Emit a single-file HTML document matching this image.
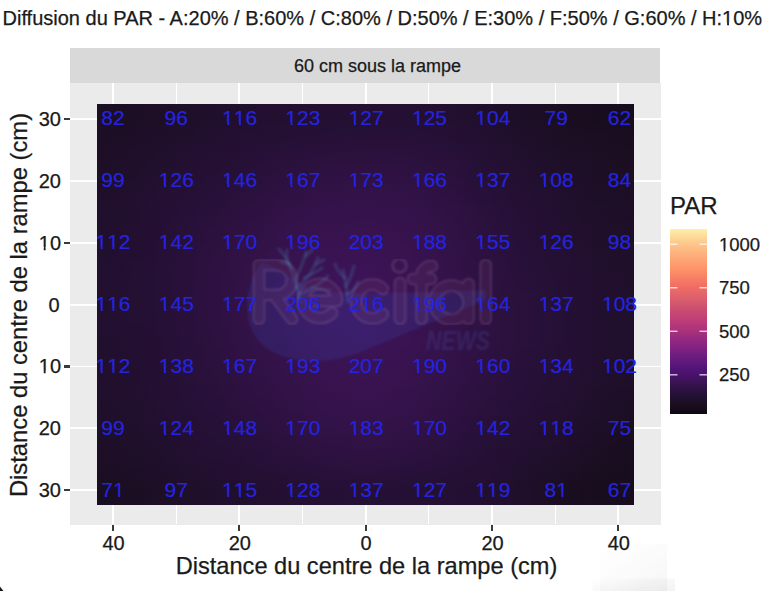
<!DOCTYPE html>
<html><head><meta charset="utf-8">
<style>
html,body{margin:0;padding:0;background:#fff;}
body{width:768px;height:591px;position:relative;overflow:hidden;font-family:"Liberation Sans",sans-serif;color:#1a1a1a;}
#title,#striptext,.xlab,.ylab,.llab,#xtitle,#ytitle span,#ltitle{-webkit-text-stroke:0.25px #1a1a1a;}
.n{-webkit-text-stroke:0.15px #2424e0;}
.o{display:inline-block;line-height:0;clip-path:polygon(-1em -2em,2em -2em,2em 0.22em,0.343em 0.22em,0.343em 1em,0.25em 1em,0.25em 0.22em,-1em 0.22em);}
.abs{position:absolute;}
#title{position:absolute;left:2.5px;top:6px;font-size:20px;white-space:nowrap;line-height:24px;color:#1a1a1a;}
#strip{position:absolute;left:70px;top:47.5px;width:590px;height:35.5px;background:#d9d9d9;}
#striptext{position:absolute;left:82.5px;top:49px;width:590px;height:35.5px;line-height:35.5px;text-align:center;font-size:18px;color:#1a1a1a;}
#panel{position:absolute;left:70px;top:83px;width:590.5px;height:441.5px;background:#ebebeb;overflow:hidden;}
.vl{position:absolute;top:83px;height:441px;background:#fff;}
.hl{position:absolute;left:70px;width:591px;height:1.9px;background:#fff;}
.n{position:absolute;width:80px;height:0;text-align:center;font-size:21px;line-height:0;color:#2424e0;}
.xtick{position:absolute;top:524.5px;width:2.2px;height:6px;background:#3a3a3a;}
.xlab{position:absolute;top:532px;width:60px;text-align:center;font-size:20px;line-height:22px;color:#1a1a1a;}
.ytick{position:absolute;left:64px;width:6px;height:2.2px;background:#3a3a3a;}
.ylab{position:absolute;left:0;width:61px;height:0;text-align:right;font-size:20px;line-height:0;color:#1a1a1a;}
.llab{position:absolute;left:719px;height:0;font-size:18.5px;line-height:0;color:#1a1a1a;}
#xtitle{position:absolute;left:71px;width:591px;top:553px;text-align:center;font-size:23.6px;line-height:26px;color:#1a1a1a;white-space:nowrap;}
#ytitle{position:absolute;left:19px;top:304.5px;width:0;height:0;}
#ytitle span{position:absolute;left:0;top:0;transform:translate(-50%,-50%) rotate(-90deg);font-size:23.75px;line-height:26px;white-space:nowrap;color:#1a1a1a;}
#ltitle{position:absolute;left:670px;top:193px;font-size:24px;line-height:26px;color:#1a1a1a;}
</style></head><body>
<div id="title">Diffusion du PAR - A:20% / B:60% / C:80% / D:50% / E:30% / F:50% / G:60% / H:<span class="o">1</span>0%</div>
<div id="strip"></div><div id="striptext">60 cm sous la rampe</div>
<div id="panel"></div>
<div class="vl" style="left:112.05px;width:1.90px"></div><div class="vl" style="left:175.61px;width:1.10px"></div><div class="vl" style="left:238.37px;width:1.90px"></div><div class="vl" style="left:301.93px;width:1.10px"></div><div class="vl" style="left:364.69px;width:1.90px"></div><div class="vl" style="left:428.25px;width:1.10px"></div><div class="vl" style="left:491.01px;width:1.90px"></div><div class="vl" style="left:554.57px;width:1.10px"></div><div class="vl" style="left:617.33px;width:1.90px"></div><div class="hl" style="top:118.35px"></div><div class="hl" style="top:180.15px"></div><div class="hl" style="top:241.95px"></div><div class="hl" style="top:303.75px"></div><div class="hl" style="top:365.55px"></div><div class="hl" style="top:427.35px"></div><div class="hl" style="top:489.15px"></div>
<svg width="537.0" height="400.8" style="position:absolute;left:97.2px;top:103.8px;display:block"><defs><linearGradient id="g0"><stop offset="0.000" stop-color="#1c0e23"/><stop offset="0.071" stop-color="#1c0e24"/><stop offset="0.143" stop-color="#1e0f28"/><stop offset="0.214" stop-color="#200f2c"/><stop offset="0.286" stop-color="#220f2f"/><stop offset="0.357" stop-color="#230f31"/><stop offset="0.429" stop-color="#230f32"/><stop offset="0.500" stop-color="#241033"/><stop offset="0.571" stop-color="#241033"/><stop offset="0.643" stop-color="#230f31"/><stop offset="0.714" stop-color="#200f2c"/><stop offset="0.786" stop-color="#1d0e27"/><stop offset="0.857" stop-color="#1b0e22"/><stop offset="0.929" stop-color="#180d1e"/><stop offset="1.000" stop-color="#170c1d"/></linearGradient><linearGradient id="g1"><stop offset="0.000" stop-color="#1c0e23"/><stop offset="0.071" stop-color="#1c0e24"/><stop offset="0.143" stop-color="#1e0f28"/><stop offset="0.214" stop-color="#200f2c"/><stop offset="0.286" stop-color="#220f2f"/><stop offset="0.357" stop-color="#230f31"/><stop offset="0.429" stop-color="#230f32"/><stop offset="0.500" stop-color="#241033"/><stop offset="0.571" stop-color="#241033"/><stop offset="0.643" stop-color="#230f31"/><stop offset="0.714" stop-color="#200f2c"/><stop offset="0.786" stop-color="#1d0e27"/><stop offset="0.857" stop-color="#1b0e22"/><stop offset="0.929" stop-color="#180d1e"/><stop offset="1.000" stop-color="#170c1d"/></linearGradient><linearGradient id="g2"><stop offset="0.000" stop-color="#1c0e23"/><stop offset="0.071" stop-color="#1c0e24"/><stop offset="0.143" stop-color="#1e0f28"/><stop offset="0.214" stop-color="#200f2c"/><stop offset="0.286" stop-color="#220f2f"/><stop offset="0.357" stop-color="#230f31"/><stop offset="0.429" stop-color="#230f32"/><stop offset="0.500" stop-color="#241033"/><stop offset="0.571" stop-color="#241033"/><stop offset="0.643" stop-color="#230f31"/><stop offset="0.714" stop-color="#200f2c"/><stop offset="0.786" stop-color="#1d0e27"/><stop offset="0.857" stop-color="#1b0e22"/><stop offset="0.929" stop-color="#180d1e"/><stop offset="1.000" stop-color="#170c1d"/></linearGradient><linearGradient id="g3"><stop offset="0.000" stop-color="#1c0e23"/><stop offset="0.071" stop-color="#1c0e24"/><stop offset="0.143" stop-color="#1e0f28"/><stop offset="0.214" stop-color="#200f2c"/><stop offset="0.286" stop-color="#220f2f"/><stop offset="0.357" stop-color="#230f31"/><stop offset="0.429" stop-color="#230f32"/><stop offset="0.500" stop-color="#241033"/><stop offset="0.571" stop-color="#241033"/><stop offset="0.643" stop-color="#230f31"/><stop offset="0.714" stop-color="#200f2c"/><stop offset="0.786" stop-color="#1d0e27"/><stop offset="0.857" stop-color="#1b0e22"/><stop offset="0.929" stop-color="#180d1e"/><stop offset="1.000" stop-color="#170c1d"/></linearGradient><linearGradient id="g4"><stop offset="0.000" stop-color="#1c0e23"/><stop offset="0.071" stop-color="#1c0e24"/><stop offset="0.143" stop-color="#1e0f28"/><stop offset="0.214" stop-color="#210f2d"/><stop offset="0.286" stop-color="#220f30"/><stop offset="0.357" stop-color="#230f31"/><stop offset="0.429" stop-color="#241032"/><stop offset="0.500" stop-color="#241033"/><stop offset="0.571" stop-color="#241034"/><stop offset="0.643" stop-color="#230f31"/><stop offset="0.714" stop-color="#210f2d"/><stop offset="0.786" stop-color="#1e0f27"/><stop offset="0.857" stop-color="#1b0e22"/><stop offset="0.929" stop-color="#180d1f"/><stop offset="1.000" stop-color="#170d1d"/></linearGradient><linearGradient id="g5"><stop offset="0.000" stop-color="#1c0e24"/><stop offset="0.071" stop-color="#1d0e25"/><stop offset="0.143" stop-color="#1f0f29"/><stop offset="0.214" stop-color="#210f2d"/><stop offset="0.286" stop-color="#230f31"/><stop offset="0.357" stop-color="#241033"/><stop offset="0.429" stop-color="#241034"/><stop offset="0.500" stop-color="#251034"/><stop offset="0.571" stop-color="#251035"/><stop offset="0.643" stop-color="#241033"/><stop offset="0.714" stop-color="#210f2e"/><stop offset="0.786" stop-color="#1e0f28"/><stop offset="0.857" stop-color="#1c0e23"/><stop offset="0.929" stop-color="#190d1f"/><stop offset="1.000" stop-color="#170d1e"/></linearGradient><linearGradient id="g6"><stop offset="0.000" stop-color="#1c0e24"/><stop offset="0.071" stop-color="#1d0e26"/><stop offset="0.143" stop-color="#1f0f2a"/><stop offset="0.214" stop-color="#210f2e"/><stop offset="0.286" stop-color="#230f31"/><stop offset="0.357" stop-color="#241034"/><stop offset="0.429" stop-color="#251035"/><stop offset="0.500" stop-color="#251036"/><stop offset="0.571" stop-color="#251036"/><stop offset="0.643" stop-color="#241034"/><stop offset="0.714" stop-color="#220f2f"/><stop offset="0.786" stop-color="#1f0f29"/><stop offset="0.857" stop-color="#1c0e24"/><stop offset="0.929" stop-color="#190d20"/><stop offset="1.000" stop-color="#180d1e"/></linearGradient><linearGradient id="g7"><stop offset="0.000" stop-color="#1c0e24"/><stop offset="0.071" stop-color="#1d0e26"/><stop offset="0.143" stop-color="#1f0f2a"/><stop offset="0.214" stop-color="#220f2f"/><stop offset="0.286" stop-color="#231032"/><stop offset="0.357" stop-color="#251034"/><stop offset="0.429" stop-color="#251036"/><stop offset="0.500" stop-color="#261037"/><stop offset="0.571" stop-color="#261037"/><stop offset="0.643" stop-color="#251035"/><stop offset="0.714" stop-color="#220f30"/><stop offset="0.786" stop-color="#1f0f2a"/><stop offset="0.857" stop-color="#1c0e25"/><stop offset="0.929" stop-color="#1a0e20"/><stop offset="1.000" stop-color="#180d1f"/></linearGradient><linearGradient id="g8"><stop offset="0.000" stop-color="#1c0e25"/><stop offset="0.071" stop-color="#1e0e27"/><stop offset="0.143" stop-color="#200f2b"/><stop offset="0.214" stop-color="#220f2f"/><stop offset="0.286" stop-color="#241033"/><stop offset="0.357" stop-color="#251035"/><stop offset="0.429" stop-color="#261037"/><stop offset="0.500" stop-color="#271038"/><stop offset="0.571" stop-color="#271038"/><stop offset="0.643" stop-color="#251036"/><stop offset="0.714" stop-color="#230f30"/><stop offset="0.786" stop-color="#200f2b"/><stop offset="0.857" stop-color="#1d0e25"/><stop offset="0.929" stop-color="#1a0e21"/><stop offset="1.000" stop-color="#190d1f"/></linearGradient><linearGradient id="g9"><stop offset="0.000" stop-color="#1d0e25"/><stop offset="0.071" stop-color="#1e0f28"/><stop offset="0.143" stop-color="#200f2c"/><stop offset="0.214" stop-color="#220f30"/><stop offset="0.286" stop-color="#241033"/><stop offset="0.357" stop-color="#261036"/><stop offset="0.429" stop-color="#271038"/><stop offset="0.500" stop-color="#281039"/><stop offset="0.571" stop-color="#281039"/><stop offset="0.643" stop-color="#261037"/><stop offset="0.714" stop-color="#230f31"/><stop offset="0.786" stop-color="#200f2b"/><stop offset="0.857" stop-color="#1d0e26"/><stop offset="0.929" stop-color="#1b0e22"/><stop offset="1.000" stop-color="#190d20"/></linearGradient><linearGradient id="g10"><stop offset="0.000" stop-color="#1d0e26"/><stop offset="0.071" stop-color="#1e0f28"/><stop offset="0.143" stop-color="#210f2d"/><stop offset="0.214" stop-color="#230f31"/><stop offset="0.286" stop-color="#251034"/><stop offset="0.357" stop-color="#261037"/><stop offset="0.429" stop-color="#28103a"/><stop offset="0.500" stop-color="#29103b"/><stop offset="0.571" stop-color="#29103b"/><stop offset="0.643" stop-color="#261038"/><stop offset="0.714" stop-color="#231032"/><stop offset="0.786" stop-color="#200f2c"/><stop offset="0.857" stop-color="#1d0e27"/><stop offset="0.929" stop-color="#1b0e22"/><stop offset="1.000" stop-color="#190d20"/></linearGradient><linearGradient id="g11"><stop offset="0.000" stop-color="#1d0e26"/><stop offset="0.071" stop-color="#1f0f29"/><stop offset="0.143" stop-color="#210f2d"/><stop offset="0.214" stop-color="#230f31"/><stop offset="0.286" stop-color="#251035"/><stop offset="0.357" stop-color="#271039"/><stop offset="0.429" stop-color="#29103b"/><stop offset="0.500" stop-color="#2a113c"/><stop offset="0.571" stop-color="#2a113c"/><stop offset="0.643" stop-color="#271039"/><stop offset="0.714" stop-color="#241033"/><stop offset="0.786" stop-color="#210f2d"/><stop offset="0.857" stop-color="#1e0e27"/><stop offset="0.929" stop-color="#1b0e23"/><stop offset="1.000" stop-color="#1a0e21"/></linearGradient><linearGradient id="g12"><stop offset="0.000" stop-color="#1d0e26"/><stop offset="0.071" stop-color="#1f0f2a"/><stop offset="0.143" stop-color="#210f2e"/><stop offset="0.214" stop-color="#231032"/><stop offset="0.286" stop-color="#251036"/><stop offset="0.357" stop-color="#28103a"/><stop offset="0.429" stop-color="#2a113c"/><stop offset="0.500" stop-color="#2b113d"/><stop offset="0.571" stop-color="#2a113d"/><stop offset="0.643" stop-color="#28103a"/><stop offset="0.714" stop-color="#241034"/><stop offset="0.786" stop-color="#210f2d"/><stop offset="0.857" stop-color="#1e0f28"/><stop offset="0.929" stop-color="#1c0e23"/><stop offset="1.000" stop-color="#1a0e21"/></linearGradient><linearGradient id="g13"><stop offset="0.000" stop-color="#1d0e27"/><stop offset="0.071" stop-color="#1f0f2a"/><stop offset="0.143" stop-color="#220f2f"/><stop offset="0.214" stop-color="#241032"/><stop offset="0.286" stop-color="#261036"/><stop offset="0.357" stop-color="#29103b"/><stop offset="0.429" stop-color="#2b113d"/><stop offset="0.500" stop-color="#2b113e"/><stop offset="0.571" stop-color="#2b113e"/><stop offset="0.643" stop-color="#29103b"/><stop offset="0.714" stop-color="#251034"/><stop offset="0.786" stop-color="#210f2e"/><stop offset="0.857" stop-color="#1e0f28"/><stop offset="0.929" stop-color="#1c0e24"/><stop offset="1.000" stop-color="#1b0e21"/></linearGradient><linearGradient id="g14"><stop offset="0.000" stop-color="#1e0e27"/><stop offset="0.071" stop-color="#1f0f2b"/><stop offset="0.143" stop-color="#220f2f"/><stop offset="0.214" stop-color="#241033"/><stop offset="0.286" stop-color="#261037"/><stop offset="0.357" stop-color="#2a113c"/><stop offset="0.429" stop-color="#2c113f"/><stop offset="0.500" stop-color="#2c113f"/><stop offset="0.571" stop-color="#2c113f"/><stop offset="0.643" stop-color="#29113c"/><stop offset="0.714" stop-color="#251035"/><stop offset="0.786" stop-color="#220f2f"/><stop offset="0.857" stop-color="#1f0f29"/><stop offset="0.929" stop-color="#1c0e24"/><stop offset="1.000" stop-color="#1b0e22"/></linearGradient><linearGradient id="g15"><stop offset="0.000" stop-color="#1e0f27"/><stop offset="0.071" stop-color="#200f2b"/><stop offset="0.143" stop-color="#220f30"/><stop offset="0.214" stop-color="#241034"/><stop offset="0.286" stop-color="#271038"/><stop offset="0.357" stop-color="#2a113d"/><stop offset="0.429" stop-color="#2d1140"/><stop offset="0.500" stop-color="#2d1141"/><stop offset="0.571" stop-color="#2d1140"/><stop offset="0.643" stop-color="#2a113d"/><stop offset="0.714" stop-color="#251036"/><stop offset="0.786" stop-color="#220f2f"/><stop offset="0.857" stop-color="#1f0f2a"/><stop offset="0.929" stop-color="#1c0e25"/><stop offset="1.000" stop-color="#1b0e22"/></linearGradient><linearGradient id="g16"><stop offset="0.000" stop-color="#1e0f28"/><stop offset="0.071" stop-color="#200f2c"/><stop offset="0.143" stop-color="#230f30"/><stop offset="0.214" stop-color="#251034"/><stop offset="0.286" stop-color="#271039"/><stop offset="0.357" stop-color="#2b113e"/><stop offset="0.429" stop-color="#2d1141"/><stop offset="0.500" stop-color="#2e1142"/><stop offset="0.571" stop-color="#2e1141"/><stop offset="0.643" stop-color="#2b113d"/><stop offset="0.714" stop-color="#261036"/><stop offset="0.786" stop-color="#220f30"/><stop offset="0.857" stop-color="#1f0f2a"/><stop offset="0.929" stop-color="#1d0e25"/><stop offset="1.000" stop-color="#1b0e23"/></linearGradient><linearGradient id="g17"><stop offset="0.000" stop-color="#1e0f28"/><stop offset="0.071" stop-color="#200f2c"/><stop offset="0.143" stop-color="#230f31"/><stop offset="0.214" stop-color="#251035"/><stop offset="0.286" stop-color="#28103a"/><stop offset="0.357" stop-color="#2c113f"/><stop offset="0.429" stop-color="#2e1142"/><stop offset="0.500" stop-color="#2f1143"/><stop offset="0.571" stop-color="#2e1142"/><stop offset="0.643" stop-color="#2b113e"/><stop offset="0.714" stop-color="#261037"/><stop offset="0.786" stop-color="#230f30"/><stop offset="0.857" stop-color="#200f2b"/><stop offset="0.929" stop-color="#1d0e26"/><stop offset="1.000" stop-color="#1c0e23"/></linearGradient><linearGradient id="g18"><stop offset="0.000" stop-color="#1e0f29"/><stop offset="0.071" stop-color="#200f2c"/><stop offset="0.143" stop-color="#230f31"/><stop offset="0.214" stop-color="#251036"/><stop offset="0.286" stop-color="#29103a"/><stop offset="0.357" stop-color="#2d1140"/><stop offset="0.429" stop-color="#2f1143"/><stop offset="0.500" stop-color="#301144"/><stop offset="0.571" stop-color="#2f1143"/><stop offset="0.643" stop-color="#2c113f"/><stop offset="0.714" stop-color="#261038"/><stop offset="0.786" stop-color="#230f31"/><stop offset="0.857" stop-color="#200f2b"/><stop offset="0.929" stop-color="#1d0e26"/><stop offset="1.000" stop-color="#1c0e23"/></linearGradient><linearGradient id="g19"><stop offset="0.000" stop-color="#1f0f29"/><stop offset="0.071" stop-color="#210f2d"/><stop offset="0.143" stop-color="#231032"/><stop offset="0.214" stop-color="#261036"/><stop offset="0.286" stop-color="#29103b"/><stop offset="0.357" stop-color="#2d1141"/><stop offset="0.429" stop-color="#301144"/><stop offset="0.500" stop-color="#301245"/><stop offset="0.571" stop-color="#301144"/><stop offset="0.643" stop-color="#2d1140"/><stop offset="0.714" stop-color="#271038"/><stop offset="0.786" stop-color="#230f32"/><stop offset="0.857" stop-color="#200f2c"/><stop offset="0.929" stop-color="#1d0e27"/><stop offset="1.000" stop-color="#1c0e24"/></linearGradient><linearGradient id="g20"><stop offset="0.000" stop-color="#1f0f29"/><stop offset="0.071" stop-color="#210f2d"/><stop offset="0.143" stop-color="#241033"/><stop offset="0.214" stop-color="#261037"/><stop offset="0.286" stop-color="#2a113c"/><stop offset="0.357" stop-color="#2e1142"/><stop offset="0.429" stop-color="#301245"/><stop offset="0.500" stop-color="#311246"/><stop offset="0.571" stop-color="#301245"/><stop offset="0.643" stop-color="#2d1141"/><stop offset="0.714" stop-color="#271039"/><stop offset="0.786" stop-color="#231032"/><stop offset="0.857" stop-color="#200f2c"/><stop offset="0.929" stop-color="#1e0e27"/><stop offset="1.000" stop-color="#1c0e24"/></linearGradient><linearGradient id="g21"><stop offset="0.000" stop-color="#1f0f2a"/><stop offset="0.071" stop-color="#210f2e"/><stop offset="0.143" stop-color="#241033"/><stop offset="0.214" stop-color="#261037"/><stop offset="0.286" stop-color="#2a113d"/><stop offset="0.357" stop-color="#2f1143"/><stop offset="0.429" stop-color="#311246"/><stop offset="0.500" stop-color="#321247"/><stop offset="0.571" stop-color="#311246"/><stop offset="0.643" stop-color="#2e1141"/><stop offset="0.714" stop-color="#28103a"/><stop offset="0.786" stop-color="#241032"/><stop offset="0.857" stop-color="#210f2d"/><stop offset="0.929" stop-color="#1e0f27"/><stop offset="1.000" stop-color="#1c0e25"/></linearGradient><linearGradient id="g22"><stop offset="0.000" stop-color="#1f0f2a"/><stop offset="0.071" stop-color="#210f2e"/><stop offset="0.143" stop-color="#241033"/><stop offset="0.214" stop-color="#271038"/><stop offset="0.286" stop-color="#2b113e"/><stop offset="0.357" stop-color="#2f1144"/><stop offset="0.429" stop-color="#321247"/><stop offset="0.500" stop-color="#321248"/><stop offset="0.571" stop-color="#321247"/><stop offset="0.643" stop-color="#2e1142"/><stop offset="0.714" stop-color="#28103a"/><stop offset="0.786" stop-color="#241033"/><stop offset="0.857" stop-color="#210f2d"/><stop offset="0.929" stop-color="#1e0f28"/><stop offset="1.000" stop-color="#1c0e25"/></linearGradient><linearGradient id="g23"><stop offset="0.000" stop-color="#1f0f2a"/><stop offset="0.071" stop-color="#220f2e"/><stop offset="0.143" stop-color="#241034"/><stop offset="0.214" stop-color="#271039"/><stop offset="0.286" stop-color="#2c113e"/><stop offset="0.357" stop-color="#301144"/><stop offset="0.429" stop-color="#331248"/><stop offset="0.500" stop-color="#331249"/><stop offset="0.571" stop-color="#321247"/><stop offset="0.643" stop-color="#2f1143"/><stop offset="0.714" stop-color="#29103b"/><stop offset="0.786" stop-color="#241033"/><stop offset="0.857" stop-color="#210f2e"/><stop offset="0.929" stop-color="#1e0f28"/><stop offset="1.000" stop-color="#1d0e25"/></linearGradient><linearGradient id="g24"><stop offset="0.000" stop-color="#200f2b"/><stop offset="0.071" stop-color="#220f2f"/><stop offset="0.143" stop-color="#251034"/><stop offset="0.214" stop-color="#281039"/><stop offset="0.286" stop-color="#2c113f"/><stop offset="0.357" stop-color="#311245"/><stop offset="0.429" stop-color="#331249"/><stop offset="0.500" stop-color="#34124a"/><stop offset="0.571" stop-color="#331248"/><stop offset="0.643" stop-color="#2f1143"/><stop offset="0.714" stop-color="#29103b"/><stop offset="0.786" stop-color="#241034"/><stop offset="0.857" stop-color="#210f2e"/><stop offset="0.929" stop-color="#1e0f29"/><stop offset="1.000" stop-color="#1d0e26"/></linearGradient><linearGradient id="g25"><stop offset="0.000" stop-color="#200f2b"/><stop offset="0.071" stop-color="#220f2f"/><stop offset="0.143" stop-color="#251035"/><stop offset="0.214" stop-color="#28103a"/><stop offset="0.286" stop-color="#2d1140"/><stop offset="0.357" stop-color="#311246"/><stop offset="0.429" stop-color="#34124a"/><stop offset="0.500" stop-color="#34124a"/><stop offset="0.571" stop-color="#331249"/><stop offset="0.643" stop-color="#301144"/><stop offset="0.714" stop-color="#2a113c"/><stop offset="0.786" stop-color="#251034"/><stop offset="0.857" stop-color="#220f2e"/><stop offset="0.929" stop-color="#1f0f29"/><stop offset="1.000" stop-color="#1d0e26"/></linearGradient><linearGradient id="g26"><stop offset="0.000" stop-color="#200f2b"/><stop offset="0.071" stop-color="#220f2f"/><stop offset="0.143" stop-color="#251035"/><stop offset="0.214" stop-color="#29103a"/><stop offset="0.286" stop-color="#2d1141"/><stop offset="0.357" stop-color="#321247"/><stop offset="0.429" stop-color="#35124b"/><stop offset="0.500" stop-color="#35124b"/><stop offset="0.571" stop-color="#34124a"/><stop offset="0.643" stop-color="#301245"/><stop offset="0.714" stop-color="#2a113c"/><stop offset="0.786" stop-color="#251035"/><stop offset="0.857" stop-color="#220f2f"/><stop offset="0.929" stop-color="#1f0f29"/><stop offset="1.000" stop-color="#1d0e26"/></linearGradient><linearGradient id="g27"><stop offset="0.000" stop-color="#200f2c"/><stop offset="0.071" stop-color="#220f30"/><stop offset="0.143" stop-color="#251035"/><stop offset="0.214" stop-color="#29103b"/><stop offset="0.286" stop-color="#2e1141"/><stop offset="0.357" stop-color="#321248"/><stop offset="0.429" stop-color="#35124b"/><stop offset="0.500" stop-color="#36124c"/><stop offset="0.571" stop-color="#34124a"/><stop offset="0.643" stop-color="#301245"/><stop offset="0.714" stop-color="#2a113d"/><stop offset="0.786" stop-color="#251035"/><stop offset="0.857" stop-color="#220f2f"/><stop offset="0.929" stop-color="#1f0f2a"/><stop offset="1.000" stop-color="#1d0e26"/></linearGradient><linearGradient id="g28"><stop offset="0.000" stop-color="#200f2c"/><stop offset="0.071" stop-color="#220f30"/><stop offset="0.143" stop-color="#251036"/><stop offset="0.214" stop-color="#29113c"/><stop offset="0.286" stop-color="#2e1142"/><stop offset="0.357" stop-color="#331248"/><stop offset="0.429" stop-color="#36124c"/><stop offset="0.500" stop-color="#36124d"/><stop offset="0.571" stop-color="#35124b"/><stop offset="0.643" stop-color="#311246"/><stop offset="0.714" stop-color="#2b113d"/><stop offset="0.786" stop-color="#251035"/><stop offset="0.857" stop-color="#220f30"/><stop offset="0.929" stop-color="#1f0f2a"/><stop offset="1.000" stop-color="#1d0e27"/></linearGradient><linearGradient id="g29"><stop offset="0.000" stop-color="#200f2c"/><stop offset="0.071" stop-color="#220f30"/><stop offset="0.143" stop-color="#251036"/><stop offset="0.214" stop-color="#2a113c"/><stop offset="0.286" stop-color="#2f1143"/><stop offset="0.357" stop-color="#331249"/><stop offset="0.429" stop-color="#36124d"/><stop offset="0.500" stop-color="#37134e"/><stop offset="0.571" stop-color="#35124c"/><stop offset="0.643" stop-color="#311246"/><stop offset="0.714" stop-color="#2b113e"/><stop offset="0.786" stop-color="#251036"/><stop offset="0.857" stop-color="#220f30"/><stop offset="0.929" stop-color="#1f0f2a"/><stop offset="1.000" stop-color="#1e0e27"/></linearGradient><linearGradient id="g30"><stop offset="0.000" stop-color="#200f2c"/><stop offset="0.071" stop-color="#230f30"/><stop offset="0.143" stop-color="#261036"/><stop offset="0.214" stop-color="#2a113d"/><stop offset="0.286" stop-color="#2f1143"/><stop offset="0.357" stop-color="#34124a"/><stop offset="0.429" stop-color="#37134e"/><stop offset="0.500" stop-color="#37134e"/><stop offset="0.571" stop-color="#36124c"/><stop offset="0.643" stop-color="#321247"/><stop offset="0.714" stop-color="#2b113e"/><stop offset="0.786" stop-color="#261036"/><stop offset="0.857" stop-color="#230f30"/><stop offset="0.929" stop-color="#200f2b"/><stop offset="1.000" stop-color="#1e0f27"/></linearGradient><linearGradient id="g31"><stop offset="0.000" stop-color="#210f2d"/><stop offset="0.071" stop-color="#230f31"/><stop offset="0.143" stop-color="#261037"/><stop offset="0.214" stop-color="#2b113d"/><stop offset="0.286" stop-color="#301144"/><stop offset="0.357" stop-color="#34124a"/><stop offset="0.429" stop-color="#37134e"/><stop offset="0.500" stop-color="#38134f"/><stop offset="0.571" stop-color="#36124d"/><stop offset="0.643" stop-color="#321247"/><stop offset="0.714" stop-color="#2c113f"/><stop offset="0.786" stop-color="#261037"/><stop offset="0.857" stop-color="#230f31"/><stop offset="0.929" stop-color="#200f2b"/><stop offset="1.000" stop-color="#1e0f28"/></linearGradient><linearGradient id="g32"><stop offset="0.000" stop-color="#210f2d"/><stop offset="0.071" stop-color="#230f31"/><stop offset="0.143" stop-color="#261037"/><stop offset="0.214" stop-color="#2b113e"/><stop offset="0.286" stop-color="#301144"/><stop offset="0.357" stop-color="#35124b"/><stop offset="0.429" stop-color="#38134f"/><stop offset="0.500" stop-color="#381350"/><stop offset="0.571" stop-color="#37124d"/><stop offset="0.643" stop-color="#321247"/><stop offset="0.714" stop-color="#2c113f"/><stop offset="0.786" stop-color="#261037"/><stop offset="0.857" stop-color="#230f31"/><stop offset="0.929" stop-color="#200f2b"/><stop offset="1.000" stop-color="#1e0f28"/></linearGradient><linearGradient id="g33"><stop offset="0.000" stop-color="#210f2d"/><stop offset="0.071" stop-color="#230f31"/><stop offset="0.143" stop-color="#261037"/><stop offset="0.214" stop-color="#2b113e"/><stop offset="0.286" stop-color="#301245"/><stop offset="0.357" stop-color="#35124c"/><stop offset="0.429" stop-color="#381350"/><stop offset="0.500" stop-color="#391350"/><stop offset="0.571" stop-color="#37134e"/><stop offset="0.643" stop-color="#321248"/><stop offset="0.714" stop-color="#2c113f"/><stop offset="0.786" stop-color="#261037"/><stop offset="0.857" stop-color="#230f31"/><stop offset="0.929" stop-color="#200f2c"/><stop offset="1.000" stop-color="#1e0f28"/></linearGradient><linearGradient id="g34"><stop offset="0.000" stop-color="#210f2d"/><stop offset="0.071" stop-color="#230f31"/><stop offset="0.143" stop-color="#261037"/><stop offset="0.214" stop-color="#2b113e"/><stop offset="0.286" stop-color="#311245"/><stop offset="0.357" stop-color="#36124c"/><stop offset="0.429" stop-color="#391350"/><stop offset="0.500" stop-color="#391351"/><stop offset="0.571" stop-color="#37134e"/><stop offset="0.643" stop-color="#331248"/><stop offset="0.714" stop-color="#2c1140"/><stop offset="0.786" stop-color="#261038"/><stop offset="0.857" stop-color="#230f32"/><stop offset="0.929" stop-color="#200f2c"/><stop offset="1.000" stop-color="#1e0f28"/></linearGradient><linearGradient id="g35"><stop offset="0.000" stop-color="#210f2d"/><stop offset="0.071" stop-color="#230f31"/><stop offset="0.143" stop-color="#261038"/><stop offset="0.214" stop-color="#2c113f"/><stop offset="0.286" stop-color="#311246"/><stop offset="0.357" stop-color="#36124d"/><stop offset="0.429" stop-color="#391351"/><stop offset="0.500" stop-color="#3a1352"/><stop offset="0.571" stop-color="#38134f"/><stop offset="0.643" stop-color="#331249"/><stop offset="0.714" stop-color="#2d1140"/><stop offset="0.786" stop-color="#271038"/><stop offset="0.857" stop-color="#231032"/><stop offset="0.929" stop-color="#200f2c"/><stop offset="1.000" stop-color="#1f0f29"/></linearGradient><linearGradient id="g36"><stop offset="0.000" stop-color="#210f2e"/><stop offset="0.071" stop-color="#230f32"/><stop offset="0.143" stop-color="#271038"/><stop offset="0.214" stop-color="#2c113f"/><stop offset="0.286" stop-color="#311246"/><stop offset="0.357" stop-color="#37124d"/><stop offset="0.429" stop-color="#3a1352"/><stop offset="0.500" stop-color="#3a1352"/><stop offset="0.571" stop-color="#38134f"/><stop offset="0.643" stop-color="#331249"/><stop offset="0.714" stop-color="#2d1140"/><stop offset="0.786" stop-color="#271038"/><stop offset="0.857" stop-color="#241032"/><stop offset="0.929" stop-color="#210f2d"/><stop offset="1.000" stop-color="#1f0f29"/></linearGradient><linearGradient id="g37"><stop offset="0.000" stop-color="#210f2e"/><stop offset="0.071" stop-color="#230f32"/><stop offset="0.143" stop-color="#271038"/><stop offset="0.214" stop-color="#2c113f"/><stop offset="0.286" stop-color="#321247"/><stop offset="0.357" stop-color="#37134e"/><stop offset="0.429" stop-color="#3a1352"/><stop offset="0.500" stop-color="#3b1353"/><stop offset="0.571" stop-color="#381350"/><stop offset="0.643" stop-color="#341249"/><stop offset="0.714" stop-color="#2d1141"/><stop offset="0.786" stop-color="#271039"/><stop offset="0.857" stop-color="#241033"/><stop offset="0.929" stop-color="#210f2d"/><stop offset="1.000" stop-color="#1f0f29"/></linearGradient><linearGradient id="g38"><stop offset="0.000" stop-color="#210f2e"/><stop offset="0.071" stop-color="#230f32"/><stop offset="0.143" stop-color="#271038"/><stop offset="0.214" stop-color="#2c1140"/><stop offset="0.286" stop-color="#321247"/><stop offset="0.357" stop-color="#37134e"/><stop offset="0.429" stop-color="#3a1353"/><stop offset="0.500" stop-color="#3b1354"/><stop offset="0.571" stop-color="#391350"/><stop offset="0.643" stop-color="#34124a"/><stop offset="0.714" stop-color="#2d1141"/><stop offset="0.786" stop-color="#281039"/><stop offset="0.857" stop-color="#241033"/><stop offset="0.929" stop-color="#210f2d"/><stop offset="1.000" stop-color="#1f0f2a"/></linearGradient><linearGradient id="g39"><stop offset="0.000" stop-color="#210f2e"/><stop offset="0.071" stop-color="#231032"/><stop offset="0.143" stop-color="#271038"/><stop offset="0.214" stop-color="#2d1140"/><stop offset="0.286" stop-color="#321247"/><stop offset="0.357" stop-color="#37134f"/><stop offset="0.429" stop-color="#3b1353"/><stop offset="0.500" stop-color="#3b1355"/><stop offset="0.571" stop-color="#391350"/><stop offset="0.643" stop-color="#34124a"/><stop offset="0.714" stop-color="#2e1141"/><stop offset="0.786" stop-color="#281039"/><stop offset="0.857" stop-color="#241033"/><stop offset="0.929" stop-color="#210f2e"/><stop offset="1.000" stop-color="#1f0f2a"/></linearGradient><linearGradient id="g40"><stop offset="0.000" stop-color="#210f2e"/><stop offset="0.071" stop-color="#231032"/><stop offset="0.143" stop-color="#271038"/><stop offset="0.214" stop-color="#2d1140"/><stop offset="0.286" stop-color="#321248"/><stop offset="0.357" stop-color="#38134f"/><stop offset="0.429" stop-color="#3b1354"/><stop offset="0.500" stop-color="#3c1355"/><stop offset="0.571" stop-color="#391351"/><stop offset="0.643" stop-color="#34124a"/><stop offset="0.714" stop-color="#2e1142"/><stop offset="0.786" stop-color="#28103a"/><stop offset="0.857" stop-color="#241034"/><stop offset="0.929" stop-color="#210f2e"/><stop offset="1.000" stop-color="#1f0f2a"/></linearGradient><linearGradient id="g41"><stop offset="0.000" stop-color="#210f2e"/><stop offset="0.071" stop-color="#231032"/><stop offset="0.143" stop-color="#271039"/><stop offset="0.214" stop-color="#2d1140"/><stop offset="0.286" stop-color="#331248"/><stop offset="0.357" stop-color="#38134f"/><stop offset="0.429" stop-color="#3b1355"/><stop offset="0.500" stop-color="#3c1356"/><stop offset="0.571" stop-color="#391351"/><stop offset="0.643" stop-color="#34124a"/><stop offset="0.714" stop-color="#2e1142"/><stop offset="0.786" stop-color="#28103a"/><stop offset="0.857" stop-color="#241034"/><stop offset="0.929" stop-color="#210f2e"/><stop offset="1.000" stop-color="#1f0f2a"/></linearGradient><linearGradient id="g42"><stop offset="0.000" stop-color="#220f2e"/><stop offset="0.071" stop-color="#231032"/><stop offset="0.143" stop-color="#271039"/><stop offset="0.214" stop-color="#2d1140"/><stop offset="0.286" stop-color="#331248"/><stop offset="0.357" stop-color="#381350"/><stop offset="0.429" stop-color="#3c1355"/><stop offset="0.500" stop-color="#3c1356"/><stop offset="0.571" stop-color="#3a1351"/><stop offset="0.643" stop-color="#34124b"/><stop offset="0.714" stop-color="#2e1142"/><stop offset="0.786" stop-color="#28103a"/><stop offset="0.857" stop-color="#251034"/><stop offset="0.929" stop-color="#220f2e"/><stop offset="1.000" stop-color="#200f2b"/></linearGradient><linearGradient id="g43"><stop offset="0.000" stop-color="#220f2f"/><stop offset="0.071" stop-color="#231032"/><stop offset="0.143" stop-color="#271039"/><stop offset="0.214" stop-color="#2d1140"/><stop offset="0.286" stop-color="#331248"/><stop offset="0.357" stop-color="#381350"/><stop offset="0.429" stop-color="#3c1356"/><stop offset="0.500" stop-color="#3d1357"/><stop offset="0.571" stop-color="#3a1352"/><stop offset="0.643" stop-color="#35124b"/><stop offset="0.714" stop-color="#2e1142"/><stop offset="0.786" stop-color="#29103b"/><stop offset="0.857" stop-color="#251034"/><stop offset="0.929" stop-color="#220f2f"/><stop offset="1.000" stop-color="#200f2b"/></linearGradient><linearGradient id="g44"><stop offset="0.000" stop-color="#220f2f"/><stop offset="0.071" stop-color="#231032"/><stop offset="0.143" stop-color="#271039"/><stop offset="0.214" stop-color="#2d1141"/><stop offset="0.286" stop-color="#331249"/><stop offset="0.357" stop-color="#381350"/><stop offset="0.429" stop-color="#3c1356"/><stop offset="0.500" stop-color="#3d1357"/><stop offset="0.571" stop-color="#3a1352"/><stop offset="0.643" stop-color="#35124b"/><stop offset="0.714" stop-color="#2e1142"/><stop offset="0.786" stop-color="#29103b"/><stop offset="0.857" stop-color="#251035"/><stop offset="0.929" stop-color="#220f2f"/><stop offset="1.000" stop-color="#200f2b"/></linearGradient><linearGradient id="g45"><stop offset="0.000" stop-color="#220f2f"/><stop offset="0.071" stop-color="#231032"/><stop offset="0.143" stop-color="#271039"/><stop offset="0.214" stop-color="#2d1141"/><stop offset="0.286" stop-color="#331249"/><stop offset="0.357" stop-color="#391350"/><stop offset="0.429" stop-color="#3c1356"/><stop offset="0.500" stop-color="#3d1358"/><stop offset="0.571" stop-color="#3a1352"/><stop offset="0.643" stop-color="#35124b"/><stop offset="0.714" stop-color="#2f1143"/><stop offset="0.786" stop-color="#29103b"/><stop offset="0.857" stop-color="#251035"/><stop offset="0.929" stop-color="#220f2f"/><stop offset="1.000" stop-color="#200f2b"/></linearGradient><linearGradient id="g46"><stop offset="0.000" stop-color="#220f2f"/><stop offset="0.071" stop-color="#231032"/><stop offset="0.143" stop-color="#271039"/><stop offset="0.214" stop-color="#2d1141"/><stop offset="0.286" stop-color="#331249"/><stop offset="0.357" stop-color="#391350"/><stop offset="0.429" stop-color="#3d1357"/><stop offset="0.500" stop-color="#3d1358"/><stop offset="0.571" stop-color="#3a1352"/><stop offset="0.643" stop-color="#35124b"/><stop offset="0.714" stop-color="#2f1143"/><stop offset="0.786" stop-color="#29103b"/><stop offset="0.857" stop-color="#251035"/><stop offset="0.929" stop-color="#220f2f"/><stop offset="1.000" stop-color="#200f2b"/></linearGradient><linearGradient id="g47"><stop offset="0.000" stop-color="#220f2f"/><stop offset="0.071" stop-color="#231032"/><stop offset="0.143" stop-color="#271039"/><stop offset="0.214" stop-color="#2d1141"/><stop offset="0.286" stop-color="#331249"/><stop offset="0.357" stop-color="#391350"/><stop offset="0.429" stop-color="#3d1357"/><stop offset="0.500" stop-color="#3d1358"/><stop offset="0.571" stop-color="#3a1353"/><stop offset="0.643" stop-color="#35124b"/><stop offset="0.714" stop-color="#2f1143"/><stop offset="0.786" stop-color="#29113c"/><stop offset="0.857" stop-color="#251035"/><stop offset="0.929" stop-color="#220f30"/><stop offset="1.000" stop-color="#200f2c"/></linearGradient><linearGradient id="g48"><stop offset="0.000" stop-color="#220f2f"/><stop offset="0.071" stop-color="#231032"/><stop offset="0.143" stop-color="#271039"/><stop offset="0.214" stop-color="#2d1141"/><stop offset="0.286" stop-color="#331249"/><stop offset="0.357" stop-color="#391350"/><stop offset="0.429" stop-color="#3d1357"/><stop offset="0.500" stop-color="#3e1359"/><stop offset="0.571" stop-color="#3a1353"/><stop offset="0.643" stop-color="#35124b"/><stop offset="0.714" stop-color="#2f1143"/><stop offset="0.786" stop-color="#29113c"/><stop offset="0.857" stop-color="#251035"/><stop offset="0.929" stop-color="#220f30"/><stop offset="1.000" stop-color="#200f2c"/></linearGradient><linearGradient id="g49"><stop offset="0.000" stop-color="#220f2f"/><stop offset="0.071" stop-color="#231032"/><stop offset="0.143" stop-color="#271039"/><stop offset="0.214" stop-color="#2d1141"/><stop offset="0.286" stop-color="#331249"/><stop offset="0.357" stop-color="#391350"/><stop offset="0.429" stop-color="#3d1357"/><stop offset="0.500" stop-color="#3e1359"/><stop offset="0.571" stop-color="#3b1353"/><stop offset="0.643" stop-color="#35124b"/><stop offset="0.714" stop-color="#2f1143"/><stop offset="0.786" stop-color="#2a113c"/><stop offset="0.857" stop-color="#251036"/><stop offset="0.929" stop-color="#220f30"/><stop offset="1.000" stop-color="#200f2c"/></linearGradient><linearGradient id="g50"><stop offset="0.000" stop-color="#220f2f"/><stop offset="0.071" stop-color="#231032"/><stop offset="0.143" stop-color="#271039"/><stop offset="0.214" stop-color="#2d1141"/><stop offset="0.286" stop-color="#331249"/><stop offset="0.357" stop-color="#391350"/><stop offset="0.429" stop-color="#3d1357"/><stop offset="0.500" stop-color="#3e1359"/><stop offset="0.571" stop-color="#3b1353"/><stop offset="0.643" stop-color="#35124b"/><stop offset="0.714" stop-color="#2f1143"/><stop offset="0.786" stop-color="#2a113c"/><stop offset="0.857" stop-color="#251036"/><stop offset="0.929" stop-color="#220f30"/><stop offset="1.000" stop-color="#200f2c"/></linearGradient><linearGradient id="g51"><stop offset="0.000" stop-color="#220f2f"/><stop offset="0.071" stop-color="#231032"/><stop offset="0.143" stop-color="#271039"/><stop offset="0.214" stop-color="#2d1141"/><stop offset="0.286" stop-color="#331249"/><stop offset="0.357" stop-color="#391350"/><stop offset="0.429" stop-color="#3d1357"/><stop offset="0.500" stop-color="#3e1359"/><stop offset="0.571" stop-color="#3b1353"/><stop offset="0.643" stop-color="#35124b"/><stop offset="0.714" stop-color="#2f1143"/><stop offset="0.786" stop-color="#2a113c"/><stop offset="0.857" stop-color="#251036"/><stop offset="0.929" stop-color="#220f30"/><stop offset="1.000" stop-color="#200f2c"/></linearGradient><linearGradient id="g52"><stop offset="0.000" stop-color="#220f2f"/><stop offset="0.071" stop-color="#231032"/><stop offset="0.143" stop-color="#271038"/><stop offset="0.214" stop-color="#2d1140"/><stop offset="0.286" stop-color="#331248"/><stop offset="0.357" stop-color="#381350"/><stop offset="0.429" stop-color="#3d1357"/><stop offset="0.500" stop-color="#3e1359"/><stop offset="0.571" stop-color="#3b1353"/><stop offset="0.643" stop-color="#35124b"/><stop offset="0.714" stop-color="#2f1143"/><stop offset="0.786" stop-color="#2a113c"/><stop offset="0.857" stop-color="#251036"/><stop offset="0.929" stop-color="#220f30"/><stop offset="1.000" stop-color="#200f2c"/></linearGradient><linearGradient id="g53"><stop offset="0.000" stop-color="#220f2f"/><stop offset="0.071" stop-color="#231032"/><stop offset="0.143" stop-color="#271038"/><stop offset="0.214" stop-color="#2d1140"/><stop offset="0.286" stop-color="#331248"/><stop offset="0.357" stop-color="#381350"/><stop offset="0.429" stop-color="#3c1357"/><stop offset="0.500" stop-color="#3e1359"/><stop offset="0.571" stop-color="#3a1353"/><stop offset="0.643" stop-color="#35124b"/><stop offset="0.714" stop-color="#2f1143"/><stop offset="0.786" stop-color="#2a113c"/><stop offset="0.857" stop-color="#251036"/><stop offset="0.929" stop-color="#220f30"/><stop offset="1.000" stop-color="#200f2c"/></linearGradient><linearGradient id="g54"><stop offset="0.000" stop-color="#220f2f"/><stop offset="0.071" stop-color="#231032"/><stop offset="0.143" stop-color="#271038"/><stop offset="0.214" stop-color="#2d1140"/><stop offset="0.286" stop-color="#331248"/><stop offset="0.357" stop-color="#38134f"/><stop offset="0.429" stop-color="#3c1356"/><stop offset="0.500" stop-color="#3d1358"/><stop offset="0.571" stop-color="#3a1353"/><stop offset="0.643" stop-color="#35124b"/><stop offset="0.714" stop-color="#2f1143"/><stop offset="0.786" stop-color="#2a113c"/><stop offset="0.857" stop-color="#251036"/><stop offset="0.929" stop-color="#220f30"/><stop offset="1.000" stop-color="#200f2c"/></linearGradient><linearGradient id="g55"><stop offset="0.000" stop-color="#220f2f"/><stop offset="0.071" stop-color="#230f32"/><stop offset="0.143" stop-color="#271038"/><stop offset="0.214" stop-color="#2d1140"/><stop offset="0.286" stop-color="#331248"/><stop offset="0.357" stop-color="#38134f"/><stop offset="0.429" stop-color="#3c1356"/><stop offset="0.500" stop-color="#3d1358"/><stop offset="0.571" stop-color="#3a1353"/><stop offset="0.643" stop-color="#35124b"/><stop offset="0.714" stop-color="#2f1143"/><stop offset="0.786" stop-color="#2a113c"/><stop offset="0.857" stop-color="#251036"/><stop offset="0.929" stop-color="#220f30"/><stop offset="1.000" stop-color="#200f2c"/></linearGradient><linearGradient id="g56"><stop offset="0.000" stop-color="#220f2e"/><stop offset="0.071" stop-color="#230f32"/><stop offset="0.143" stop-color="#271038"/><stop offset="0.214" stop-color="#2c1140"/><stop offset="0.286" stop-color="#321248"/><stop offset="0.357" stop-color="#38134f"/><stop offset="0.429" stop-color="#3c1355"/><stop offset="0.500" stop-color="#3d1358"/><stop offset="0.571" stop-color="#3a1352"/><stop offset="0.643" stop-color="#35124b"/><stop offset="0.714" stop-color="#2f1143"/><stop offset="0.786" stop-color="#2a113c"/><stop offset="0.857" stop-color="#251036"/><stop offset="0.929" stop-color="#220f30"/><stop offset="1.000" stop-color="#200f2c"/></linearGradient><linearGradient id="g57"><stop offset="0.000" stop-color="#220f2e"/><stop offset="0.071" stop-color="#230f32"/><stop offset="0.143" stop-color="#261038"/><stop offset="0.214" stop-color="#2c113f"/><stop offset="0.286" stop-color="#321247"/><stop offset="0.357" stop-color="#37134f"/><stop offset="0.429" stop-color="#3c1355"/><stop offset="0.500" stop-color="#3d1358"/><stop offset="0.571" stop-color="#3a1352"/><stop offset="0.643" stop-color="#35124b"/><stop offset="0.714" stop-color="#2f1143"/><stop offset="0.786" stop-color="#2a113c"/><stop offset="0.857" stop-color="#251036"/><stop offset="0.929" stop-color="#220f30"/><stop offset="1.000" stop-color="#200f2c"/></linearGradient><linearGradient id="g58"><stop offset="0.000" stop-color="#210f2e"/><stop offset="0.071" stop-color="#230f31"/><stop offset="0.143" stop-color="#261037"/><stop offset="0.214" stop-color="#2c113f"/><stop offset="0.286" stop-color="#321247"/><stop offset="0.357" stop-color="#37134e"/><stop offset="0.429" stop-color="#3b1354"/><stop offset="0.500" stop-color="#3d1357"/><stop offset="0.571" stop-color="#3a1352"/><stop offset="0.643" stop-color="#35124b"/><stop offset="0.714" stop-color="#2f1143"/><stop offset="0.786" stop-color="#2a113c"/><stop offset="0.857" stop-color="#251036"/><stop offset="0.929" stop-color="#220f30"/><stop offset="1.000" stop-color="#200f2c"/></linearGradient><linearGradient id="g59"><stop offset="0.000" stop-color="#210f2e"/><stop offset="0.071" stop-color="#230f31"/><stop offset="0.143" stop-color="#261037"/><stop offset="0.214" stop-color="#2c113f"/><stop offset="0.286" stop-color="#321247"/><stop offset="0.357" stop-color="#37134e"/><stop offset="0.429" stop-color="#3b1354"/><stop offset="0.500" stop-color="#3d1357"/><stop offset="0.571" stop-color="#3a1352"/><stop offset="0.643" stop-color="#35124b"/><stop offset="0.714" stop-color="#2f1143"/><stop offset="0.786" stop-color="#2a113c"/><stop offset="0.857" stop-color="#251036"/><stop offset="0.929" stop-color="#220f30"/><stop offset="1.000" stop-color="#200f2c"/></linearGradient><linearGradient id="g60"><stop offset="0.000" stop-color="#210f2e"/><stop offset="0.071" stop-color="#230f31"/><stop offset="0.143" stop-color="#261037"/><stop offset="0.214" stop-color="#2c113f"/><stop offset="0.286" stop-color="#311246"/><stop offset="0.357" stop-color="#37124d"/><stop offset="0.429" stop-color="#3b1353"/><stop offset="0.500" stop-color="#3c1356"/><stop offset="0.571" stop-color="#3a1351"/><stop offset="0.643" stop-color="#34124b"/><stop offset="0.714" stop-color="#2f1143"/><stop offset="0.786" stop-color="#29113c"/><stop offset="0.857" stop-color="#251035"/><stop offset="0.929" stop-color="#220f30"/><stop offset="1.000" stop-color="#200f2c"/></linearGradient><linearGradient id="g61"><stop offset="0.000" stop-color="#210f2e"/><stop offset="0.071" stop-color="#230f31"/><stop offset="0.143" stop-color="#261037"/><stop offset="0.214" stop-color="#2b113e"/><stop offset="0.286" stop-color="#311246"/><stop offset="0.357" stop-color="#36124d"/><stop offset="0.429" stop-color="#3a1353"/><stop offset="0.500" stop-color="#3c1356"/><stop offset="0.571" stop-color="#391351"/><stop offset="0.643" stop-color="#34124a"/><stop offset="0.714" stop-color="#2f1143"/><stop offset="0.786" stop-color="#29103b"/><stop offset="0.857" stop-color="#251035"/><stop offset="0.929" stop-color="#220f2f"/><stop offset="1.000" stop-color="#200f2b"/></linearGradient><linearGradient id="g62"><stop offset="0.000" stop-color="#210f2e"/><stop offset="0.071" stop-color="#230f31"/><stop offset="0.143" stop-color="#261037"/><stop offset="0.214" stop-color="#2b113e"/><stop offset="0.286" stop-color="#311246"/><stop offset="0.357" stop-color="#36124c"/><stop offset="0.429" stop-color="#3a1352"/><stop offset="0.500" stop-color="#3c1355"/><stop offset="0.571" stop-color="#391351"/><stop offset="0.643" stop-color="#34124a"/><stop offset="0.714" stop-color="#2e1142"/><stop offset="0.786" stop-color="#29103b"/><stop offset="0.857" stop-color="#251035"/><stop offset="0.929" stop-color="#220f2f"/><stop offset="1.000" stop-color="#200f2b"/></linearGradient><linearGradient id="g63"><stop offset="0.000" stop-color="#210f2e"/><stop offset="0.071" stop-color="#230f31"/><stop offset="0.143" stop-color="#261036"/><stop offset="0.214" stop-color="#2b113e"/><stop offset="0.286" stop-color="#311245"/><stop offset="0.357" stop-color="#36124c"/><stop offset="0.429" stop-color="#3a1352"/><stop offset="0.500" stop-color="#3b1355"/><stop offset="0.571" stop-color="#391351"/><stop offset="0.643" stop-color="#34124a"/><stop offset="0.714" stop-color="#2e1142"/><stop offset="0.786" stop-color="#29103b"/><stop offset="0.857" stop-color="#251035"/><stop offset="0.929" stop-color="#220f2f"/><stop offset="1.000" stop-color="#200f2b"/></linearGradient><linearGradient id="g64"><stop offset="0.000" stop-color="#210f2e"/><stop offset="0.071" stop-color="#230f31"/><stop offset="0.143" stop-color="#261036"/><stop offset="0.214" stop-color="#2b113d"/><stop offset="0.286" stop-color="#301245"/><stop offset="0.357" stop-color="#35124b"/><stop offset="0.429" stop-color="#391351"/><stop offset="0.500" stop-color="#3b1354"/><stop offset="0.571" stop-color="#391350"/><stop offset="0.643" stop-color="#34124a"/><stop offset="0.714" stop-color="#2e1142"/><stop offset="0.786" stop-color="#29103b"/><stop offset="0.857" stop-color="#251035"/><stop offset="0.929" stop-color="#220f2f"/><stop offset="1.000" stop-color="#1f0f2a"/></linearGradient><linearGradient id="g65"><stop offset="0.000" stop-color="#210f2d"/><stop offset="0.071" stop-color="#230f30"/><stop offset="0.143" stop-color="#251036"/><stop offset="0.214" stop-color="#2b113d"/><stop offset="0.286" stop-color="#301144"/><stop offset="0.357" stop-color="#35124b"/><stop offset="0.429" stop-color="#391351"/><stop offset="0.500" stop-color="#3b1353"/><stop offset="0.571" stop-color="#381350"/><stop offset="0.643" stop-color="#341249"/><stop offset="0.714" stop-color="#2e1142"/><stop offset="0.786" stop-color="#29103b"/><stop offset="0.857" stop-color="#251035"/><stop offset="0.929" stop-color="#220f2e"/><stop offset="1.000" stop-color="#1f0f2a"/></linearGradient><linearGradient id="g66"><stop offset="0.000" stop-color="#210f2d"/><stop offset="0.071" stop-color="#220f30"/><stop offset="0.143" stop-color="#251036"/><stop offset="0.214" stop-color="#2a113d"/><stop offset="0.286" stop-color="#301144"/><stop offset="0.357" stop-color="#34124a"/><stop offset="0.429" stop-color="#391350"/><stop offset="0.500" stop-color="#3a1353"/><stop offset="0.571" stop-color="#38134f"/><stop offset="0.643" stop-color="#331249"/><stop offset="0.714" stop-color="#2e1141"/><stop offset="0.786" stop-color="#28103a"/><stop offset="0.857" stop-color="#251034"/><stop offset="0.929" stop-color="#210f2e"/><stop offset="1.000" stop-color="#1f0f2a"/></linearGradient><linearGradient id="g67"><stop offset="0.000" stop-color="#210f2d"/><stop offset="0.071" stop-color="#220f30"/><stop offset="0.143" stop-color="#251036"/><stop offset="0.214" stop-color="#2a113c"/><stop offset="0.286" stop-color="#2f1144"/><stop offset="0.357" stop-color="#34124a"/><stop offset="0.429" stop-color="#381350"/><stop offset="0.500" stop-color="#3a1352"/><stop offset="0.571" stop-color="#38134f"/><stop offset="0.643" stop-color="#331249"/><stop offset="0.714" stop-color="#2d1141"/><stop offset="0.786" stop-color="#28103a"/><stop offset="0.857" stop-color="#251034"/><stop offset="0.929" stop-color="#210f2e"/><stop offset="1.000" stop-color="#1f0f29"/></linearGradient><linearGradient id="g68"><stop offset="0.000" stop-color="#210f2d"/><stop offset="0.071" stop-color="#220f30"/><stop offset="0.143" stop-color="#251035"/><stop offset="0.214" stop-color="#2a113c"/><stop offset="0.286" stop-color="#2f1143"/><stop offset="0.357" stop-color="#341249"/><stop offset="0.429" stop-color="#38134f"/><stop offset="0.500" stop-color="#3a1351"/><stop offset="0.571" stop-color="#38134f"/><stop offset="0.643" stop-color="#331248"/><stop offset="0.714" stop-color="#2d1140"/><stop offset="0.786" stop-color="#28103a"/><stop offset="0.857" stop-color="#241034"/><stop offset="0.929" stop-color="#210f2e"/><stop offset="1.000" stop-color="#1e0f29"/></linearGradient><linearGradient id="g69"><stop offset="0.000" stop-color="#210f2d"/><stop offset="0.071" stop-color="#220f30"/><stop offset="0.143" stop-color="#251035"/><stop offset="0.214" stop-color="#29113c"/><stop offset="0.286" stop-color="#2f1143"/><stop offset="0.357" stop-color="#331249"/><stop offset="0.429" stop-color="#37134e"/><stop offset="0.500" stop-color="#391351"/><stop offset="0.571" stop-color="#37134e"/><stop offset="0.643" stop-color="#321248"/><stop offset="0.714" stop-color="#2d1140"/><stop offset="0.786" stop-color="#281039"/><stop offset="0.857" stop-color="#241034"/><stop offset="0.929" stop-color="#210f2d"/><stop offset="1.000" stop-color="#1e0f28"/></linearGradient><linearGradient id="g70"><stop offset="0.000" stop-color="#200f2c"/><stop offset="0.071" stop-color="#220f2f"/><stop offset="0.143" stop-color="#251035"/><stop offset="0.214" stop-color="#29103b"/><stop offset="0.286" stop-color="#2e1142"/><stop offset="0.357" stop-color="#331248"/><stop offset="0.429" stop-color="#37134e"/><stop offset="0.500" stop-color="#391350"/><stop offset="0.571" stop-color="#37134e"/><stop offset="0.643" stop-color="#321247"/><stop offset="0.714" stop-color="#2c1140"/><stop offset="0.786" stop-color="#271039"/><stop offset="0.857" stop-color="#241033"/><stop offset="0.929" stop-color="#210f2d"/><stop offset="1.000" stop-color="#1e0f27"/></linearGradient><linearGradient id="g71"><stop offset="0.000" stop-color="#200f2c"/><stop offset="0.071" stop-color="#220f2f"/><stop offset="0.143" stop-color="#251035"/><stop offset="0.214" stop-color="#29103b"/><stop offset="0.286" stop-color="#2e1142"/><stop offset="0.357" stop-color="#331248"/><stop offset="0.429" stop-color="#37124d"/><stop offset="0.500" stop-color="#381350"/><stop offset="0.571" stop-color="#36124d"/><stop offset="0.643" stop-color="#321247"/><stop offset="0.714" stop-color="#2c113f"/><stop offset="0.786" stop-color="#271039"/><stop offset="0.857" stop-color="#241033"/><stop offset="0.929" stop-color="#200f2c"/><stop offset="1.000" stop-color="#1d0e27"/></linearGradient><linearGradient id="g72"><stop offset="0.000" stop-color="#200f2c"/><stop offset="0.071" stop-color="#220f2f"/><stop offset="0.143" stop-color="#251034"/><stop offset="0.214" stop-color="#29103a"/><stop offset="0.286" stop-color="#2e1141"/><stop offset="0.357" stop-color="#321247"/><stop offset="0.429" stop-color="#36124d"/><stop offset="0.500" stop-color="#38134f"/><stop offset="0.571" stop-color="#36124d"/><stop offset="0.643" stop-color="#311246"/><stop offset="0.714" stop-color="#2c113f"/><stop offset="0.786" stop-color="#271038"/><stop offset="0.857" stop-color="#241033"/><stop offset="0.929" stop-color="#200f2c"/><stop offset="1.000" stop-color="#1d0e26"/></linearGradient><linearGradient id="g73"><stop offset="0.000" stop-color="#200f2c"/><stop offset="0.071" stop-color="#220f2f"/><stop offset="0.143" stop-color="#241034"/><stop offset="0.214" stop-color="#28103a"/><stop offset="0.286" stop-color="#2d1141"/><stop offset="0.357" stop-color="#321247"/><stop offset="0.429" stop-color="#36124c"/><stop offset="0.500" stop-color="#37134f"/><stop offset="0.571" stop-color="#36124c"/><stop offset="0.643" stop-color="#311246"/><stop offset="0.714" stop-color="#2b113e"/><stop offset="0.786" stop-color="#261038"/><stop offset="0.857" stop-color="#241032"/><stop offset="0.929" stop-color="#200f2b"/><stop offset="1.000" stop-color="#1d0e25"/></linearGradient><linearGradient id="g74"><stop offset="0.000" stop-color="#200f2b"/><stop offset="0.071" stop-color="#210f2e"/><stop offset="0.143" stop-color="#241034"/><stop offset="0.214" stop-color="#28103a"/><stop offset="0.286" stop-color="#2d1140"/><stop offset="0.357" stop-color="#311246"/><stop offset="0.429" stop-color="#35124b"/><stop offset="0.500" stop-color="#37134e"/><stop offset="0.571" stop-color="#35124c"/><stop offset="0.643" stop-color="#311245"/><stop offset="0.714" stop-color="#2b113e"/><stop offset="0.786" stop-color="#261037"/><stop offset="0.857" stop-color="#231032"/><stop offset="0.929" stop-color="#200f2b"/><stop offset="1.000" stop-color="#1c0e25"/></linearGradient><linearGradient id="g75"><stop offset="0.000" stop-color="#200f2b"/><stop offset="0.071" stop-color="#210f2e"/><stop offset="0.143" stop-color="#241033"/><stop offset="0.214" stop-color="#281039"/><stop offset="0.286" stop-color="#2c1140"/><stop offset="0.357" stop-color="#311246"/><stop offset="0.429" stop-color="#35124b"/><stop offset="0.500" stop-color="#37124d"/><stop offset="0.571" stop-color="#35124b"/><stop offset="0.643" stop-color="#301245"/><stop offset="0.714" stop-color="#2b113d"/><stop offset="0.786" stop-color="#261037"/><stop offset="0.857" stop-color="#230f32"/><stop offset="0.929" stop-color="#1f0f2a"/><stop offset="1.000" stop-color="#1c0e24"/></linearGradient><linearGradient id="g76"><stop offset="0.000" stop-color="#200f2b"/><stop offset="0.071" stop-color="#210f2e"/><stop offset="0.143" stop-color="#241033"/><stop offset="0.214" stop-color="#271039"/><stop offset="0.286" stop-color="#2c113f"/><stop offset="0.357" stop-color="#301245"/><stop offset="0.429" stop-color="#34124a"/><stop offset="0.500" stop-color="#36124d"/><stop offset="0.571" stop-color="#34124a"/><stop offset="0.643" stop-color="#301144"/><stop offset="0.714" stop-color="#2a113d"/><stop offset="0.786" stop-color="#261036"/><stop offset="0.857" stop-color="#230f31"/><stop offset="0.929" stop-color="#1f0f2a"/><stop offset="1.000" stop-color="#1c0e24"/></linearGradient><linearGradient id="g77"><stop offset="0.000" stop-color="#1f0f2a"/><stop offset="0.071" stop-color="#210f2d"/><stop offset="0.143" stop-color="#241033"/><stop offset="0.214" stop-color="#271038"/><stop offset="0.286" stop-color="#2b113e"/><stop offset="0.357" stop-color="#301144"/><stop offset="0.429" stop-color="#341249"/><stop offset="0.500" stop-color="#35124c"/><stop offset="0.571" stop-color="#34124a"/><stop offset="0.643" stop-color="#2f1144"/><stop offset="0.714" stop-color="#2a113c"/><stop offset="0.786" stop-color="#251036"/><stop offset="0.857" stop-color="#230f31"/><stop offset="0.929" stop-color="#1f0f29"/><stop offset="1.000" stop-color="#1b0e23"/></linearGradient><linearGradient id="g78"><stop offset="0.000" stop-color="#1f0f2a"/><stop offset="0.071" stop-color="#210f2d"/><stop offset="0.143" stop-color="#241032"/><stop offset="0.214" stop-color="#261038"/><stop offset="0.286" stop-color="#2b113e"/><stop offset="0.357" stop-color="#2f1144"/><stop offset="0.429" stop-color="#331249"/><stop offset="0.500" stop-color="#35124b"/><stop offset="0.571" stop-color="#331249"/><stop offset="0.643" stop-color="#2f1143"/><stop offset="0.714" stop-color="#29103b"/><stop offset="0.786" stop-color="#251035"/><stop offset="0.857" stop-color="#230f30"/><stop offset="0.929" stop-color="#1f0f29"/><stop offset="1.000" stop-color="#1b0e22"/></linearGradient><linearGradient id="g79"><stop offset="0.000" stop-color="#1f0f2a"/><stop offset="0.071" stop-color="#210f2d"/><stop offset="0.143" stop-color="#231032"/><stop offset="0.214" stop-color="#261037"/><stop offset="0.286" stop-color="#2b113d"/><stop offset="0.357" stop-color="#2f1143"/><stop offset="0.429" stop-color="#321248"/><stop offset="0.500" stop-color="#34124a"/><stop offset="0.571" stop-color="#331248"/><stop offset="0.643" stop-color="#2e1142"/><stop offset="0.714" stop-color="#29103b"/><stop offset="0.786" stop-color="#251035"/><stop offset="0.857" stop-color="#220f30"/><stop offset="0.929" stop-color="#1e0f28"/><stop offset="1.000" stop-color="#1b0e22"/></linearGradient><linearGradient id="g80"><stop offset="0.000" stop-color="#1f0f29"/><stop offset="0.071" stop-color="#200f2c"/><stop offset="0.143" stop-color="#230f31"/><stop offset="0.214" stop-color="#261037"/><stop offset="0.286" stop-color="#2a113c"/><stop offset="0.357" stop-color="#2e1142"/><stop offset="0.429" stop-color="#321247"/><stop offset="0.500" stop-color="#341249"/><stop offset="0.571" stop-color="#321247"/><stop offset="0.643" stop-color="#2e1142"/><stop offset="0.714" stop-color="#28103a"/><stop offset="0.786" stop-color="#251034"/><stop offset="0.857" stop-color="#220f2f"/><stop offset="0.929" stop-color="#1e0f28"/><stop offset="1.000" stop-color="#1a0e21"/></linearGradient><linearGradient id="g81"><stop offset="0.000" stop-color="#1f0f29"/><stop offset="0.071" stop-color="#200f2c"/><stop offset="0.143" stop-color="#230f31"/><stop offset="0.214" stop-color="#261036"/><stop offset="0.286" stop-color="#2a113c"/><stop offset="0.357" stop-color="#2e1141"/><stop offset="0.429" stop-color="#311246"/><stop offset="0.500" stop-color="#331249"/><stop offset="0.571" stop-color="#311246"/><stop offset="0.643" stop-color="#2d1141"/><stop offset="0.714" stop-color="#28103a"/><stop offset="0.786" stop-color="#241034"/><stop offset="0.857" stop-color="#220f2f"/><stop offset="0.929" stop-color="#1e0e27"/><stop offset="1.000" stop-color="#1a0e21"/></linearGradient><linearGradient id="g82"><stop offset="0.000" stop-color="#1e0f28"/><stop offset="0.071" stop-color="#200f2b"/><stop offset="0.143" stop-color="#230f31"/><stop offset="0.214" stop-color="#251036"/><stop offset="0.286" stop-color="#29103b"/><stop offset="0.357" stop-color="#2d1141"/><stop offset="0.429" stop-color="#311245"/><stop offset="0.500" stop-color="#321248"/><stop offset="0.571" stop-color="#311246"/><stop offset="0.643" stop-color="#2d1140"/><stop offset="0.714" stop-color="#271039"/><stop offset="0.786" stop-color="#241033"/><stop offset="0.857" stop-color="#210f2e"/><stop offset="0.929" stop-color="#1d0e27"/><stop offset="1.000" stop-color="#190d20"/></linearGradient><linearGradient id="g83"><stop offset="0.000" stop-color="#1e0f28"/><stop offset="0.071" stop-color="#200f2b"/><stop offset="0.143" stop-color="#220f30"/><stop offset="0.214" stop-color="#251035"/><stop offset="0.286" stop-color="#28103a"/><stop offset="0.357" stop-color="#2c1140"/><stop offset="0.429" stop-color="#301144"/><stop offset="0.500" stop-color="#321247"/><stop offset="0.571" stop-color="#301245"/><stop offset="0.643" stop-color="#2c113f"/><stop offset="0.714" stop-color="#271038"/><stop offset="0.786" stop-color="#241033"/><stop offset="0.857" stop-color="#210f2e"/><stop offset="0.929" stop-color="#1d0e26"/><stop offset="1.000" stop-color="#190d20"/></linearGradient><linearGradient id="g84"><stop offset="0.000" stop-color="#1e0f27"/><stop offset="0.071" stop-color="#1f0f2a"/><stop offset="0.143" stop-color="#220f30"/><stop offset="0.214" stop-color="#251035"/><stop offset="0.286" stop-color="#28103a"/><stop offset="0.357" stop-color="#2c113f"/><stop offset="0.429" stop-color="#2f1143"/><stop offset="0.500" stop-color="#311246"/><stop offset="0.571" stop-color="#2f1144"/><stop offset="0.643" stop-color="#2b113e"/><stop offset="0.714" stop-color="#261038"/><stop offset="0.786" stop-color="#241032"/><stop offset="0.857" stop-color="#210f2d"/><stop offset="0.929" stop-color="#1d0e25"/><stop offset="1.000" stop-color="#190d1f"/></linearGradient><linearGradient id="g85"><stop offset="0.000" stop-color="#1e0e27"/><stop offset="0.071" stop-color="#1f0f2a"/><stop offset="0.143" stop-color="#220f2f"/><stop offset="0.214" stop-color="#241034"/><stop offset="0.286" stop-color="#271039"/><stop offset="0.357" stop-color="#2b113e"/><stop offset="0.429" stop-color="#2e1142"/><stop offset="0.500" stop-color="#301245"/><stop offset="0.571" stop-color="#2f1143"/><stop offset="0.643" stop-color="#2b113e"/><stop offset="0.714" stop-color="#261037"/><stop offset="0.786" stop-color="#231032"/><stop offset="0.857" stop-color="#200f2c"/><stop offset="0.929" stop-color="#1c0e25"/><stop offset="1.000" stop-color="#180d1f"/></linearGradient><linearGradient id="g86"><stop offset="0.000" stop-color="#1d0e26"/><stop offset="0.071" stop-color="#1f0f29"/><stop offset="0.143" stop-color="#220f2f"/><stop offset="0.214" stop-color="#241033"/><stop offset="0.286" stop-color="#271038"/><stop offset="0.357" stop-color="#2a113d"/><stop offset="0.429" stop-color="#2e1141"/><stop offset="0.500" stop-color="#2f1143"/><stop offset="0.571" stop-color="#2e1142"/><stop offset="0.643" stop-color="#2a113d"/><stop offset="0.714" stop-color="#261036"/><stop offset="0.786" stop-color="#230f31"/><stop offset="0.857" stop-color="#200f2c"/><stop offset="0.929" stop-color="#1c0e24"/><stop offset="1.000" stop-color="#180d1f"/></linearGradient><linearGradient id="g87"><stop offset="0.000" stop-color="#1d0e26"/><stop offset="0.071" stop-color="#1f0f29"/><stop offset="0.143" stop-color="#210f2e"/><stop offset="0.214" stop-color="#241033"/><stop offset="0.286" stop-color="#261037"/><stop offset="0.357" stop-color="#2a113c"/><stop offset="0.429" stop-color="#2d1140"/><stop offset="0.500" stop-color="#2e1142"/><stop offset="0.571" stop-color="#2d1140"/><stop offset="0.643" stop-color="#29113c"/><stop offset="0.714" stop-color="#251036"/><stop offset="0.786" stop-color="#230f31"/><stop offset="0.857" stop-color="#200f2b"/><stop offset="0.929" stop-color="#1c0e23"/><stop offset="1.000" stop-color="#180d1e"/></linearGradient><linearGradient id="g88"><stop offset="0.000" stop-color="#1d0e25"/><stop offset="0.071" stop-color="#1e0f28"/><stop offset="0.143" stop-color="#210f2e"/><stop offset="0.214" stop-color="#231032"/><stop offset="0.286" stop-color="#261036"/><stop offset="0.357" stop-color="#29103b"/><stop offset="0.429" stop-color="#2c113f"/><stop offset="0.500" stop-color="#2e1141"/><stop offset="0.571" stop-color="#2c113f"/><stop offset="0.643" stop-color="#29103b"/><stop offset="0.714" stop-color="#251035"/><stop offset="0.786" stop-color="#220f30"/><stop offset="0.857" stop-color="#1f0f2a"/><stop offset="0.929" stop-color="#1b0e23"/><stop offset="1.000" stop-color="#180d1e"/></linearGradient><linearGradient id="g89"><stop offset="0.000" stop-color="#1c0e24"/><stop offset="0.071" stop-color="#1e0f28"/><stop offset="0.143" stop-color="#210f2d"/><stop offset="0.214" stop-color="#230f31"/><stop offset="0.286" stop-color="#251036"/><stop offset="0.357" stop-color="#28103a"/><stop offset="0.429" stop-color="#2b113e"/><stop offset="0.500" stop-color="#2d1140"/><stop offset="0.571" stop-color="#2b113e"/><stop offset="0.643" stop-color="#28103a"/><stop offset="0.714" stop-color="#251035"/><stop offset="0.786" stop-color="#220f30"/><stop offset="0.857" stop-color="#1f0f29"/><stop offset="0.929" stop-color="#1b0e22"/><stop offset="1.000" stop-color="#170d1e"/></linearGradient><linearGradient id="g90"><stop offset="0.000" stop-color="#1c0e24"/><stop offset="0.071" stop-color="#1e0e27"/><stop offset="0.143" stop-color="#200f2c"/><stop offset="0.214" stop-color="#230f31"/><stop offset="0.286" stop-color="#251035"/><stop offset="0.357" stop-color="#271039"/><stop offset="0.429" stop-color="#2a113d"/><stop offset="0.500" stop-color="#2c113f"/><stop offset="0.571" stop-color="#2a113d"/><stop offset="0.643" stop-color="#271039"/><stop offset="0.714" stop-color="#251034"/><stop offset="0.786" stop-color="#220f2f"/><stop offset="0.857" stop-color="#1e0f28"/><stop offset="0.929" stop-color="#1a0e21"/><stop offset="1.000" stop-color="#170d1e"/></linearGradient><linearGradient id="g91"><stop offset="0.000" stop-color="#1c0e23"/><stop offset="0.071" stop-color="#1d0e27"/><stop offset="0.143" stop-color="#200f2c"/><stop offset="0.214" stop-color="#220f30"/><stop offset="0.286" stop-color="#241034"/><stop offset="0.357" stop-color="#261038"/><stop offset="0.429" stop-color="#29103b"/><stop offset="0.500" stop-color="#2b113d"/><stop offset="0.571" stop-color="#29103b"/><stop offset="0.643" stop-color="#261037"/><stop offset="0.714" stop-color="#241034"/><stop offset="0.786" stop-color="#210f2e"/><stop offset="0.857" stop-color="#1e0f27"/><stop offset="0.929" stop-color="#1a0e21"/><stop offset="1.000" stop-color="#170d1e"/></linearGradient><linearGradient id="g92"><stop offset="0.000" stop-color="#1b0e22"/><stop offset="0.071" stop-color="#1d0e26"/><stop offset="0.143" stop-color="#200f2b"/><stop offset="0.214" stop-color="#220f2f"/><stop offset="0.286" stop-color="#241033"/><stop offset="0.357" stop-color="#261036"/><stop offset="0.429" stop-color="#28103a"/><stop offset="0.500" stop-color="#2a113c"/><stop offset="0.571" stop-color="#28103a"/><stop offset="0.643" stop-color="#261036"/><stop offset="0.714" stop-color="#241033"/><stop offset="0.786" stop-color="#210f2e"/><stop offset="0.857" stop-color="#1d0e27"/><stop offset="0.929" stop-color="#190d20"/><stop offset="1.000" stop-color="#170d1e"/></linearGradient><linearGradient id="g93"><stop offset="0.000" stop-color="#1b0e22"/><stop offset="0.071" stop-color="#1d0e25"/><stop offset="0.143" stop-color="#1f0f2a"/><stop offset="0.214" stop-color="#220f2f"/><stop offset="0.286" stop-color="#231032"/><stop offset="0.357" stop-color="#251035"/><stop offset="0.429" stop-color="#271039"/><stop offset="0.500" stop-color="#29103b"/><stop offset="0.571" stop-color="#271038"/><stop offset="0.643" stop-color="#251035"/><stop offset="0.714" stop-color="#241033"/><stop offset="0.786" stop-color="#210f2d"/><stop offset="0.857" stop-color="#1d0e26"/><stop offset="0.929" stop-color="#190d20"/><stop offset="1.000" stop-color="#170d1e"/></linearGradient><linearGradient id="g94"><stop offset="0.000" stop-color="#1a0e21"/><stop offset="0.071" stop-color="#1c0e24"/><stop offset="0.143" stop-color="#1f0f2a"/><stop offset="0.214" stop-color="#210f2e"/><stop offset="0.286" stop-color="#230f31"/><stop offset="0.357" stop-color="#251034"/><stop offset="0.429" stop-color="#261037"/><stop offset="0.500" stop-color="#281039"/><stop offset="0.571" stop-color="#261037"/><stop offset="0.643" stop-color="#251034"/><stop offset="0.714" stop-color="#231032"/><stop offset="0.786" stop-color="#200f2c"/><stop offset="0.857" stop-color="#1c0e24"/><stop offset="0.929" stop-color="#180d1f"/><stop offset="1.000" stop-color="#170d1e"/></linearGradient><linearGradient id="g95"><stop offset="0.000" stop-color="#1a0e20"/><stop offset="0.071" stop-color="#1c0e24"/><stop offset="0.143" stop-color="#1f0f29"/><stop offset="0.214" stop-color="#210f2d"/><stop offset="0.286" stop-color="#230f30"/><stop offset="0.357" stop-color="#241033"/><stop offset="0.429" stop-color="#261036"/><stop offset="0.500" stop-color="#261037"/><stop offset="0.571" stop-color="#251035"/><stop offset="0.643" stop-color="#241033"/><stop offset="0.714" stop-color="#230f31"/><stop offset="0.786" stop-color="#200f2c"/><stop offset="0.857" stop-color="#1c0e23"/><stop offset="0.929" stop-color="#180d1e"/><stop offset="1.000" stop-color="#180d1e"/></linearGradient><linearGradient id="g96"><stop offset="0.000" stop-color="#190d20"/><stop offset="0.071" stop-color="#1b0e23"/><stop offset="0.143" stop-color="#1e0f28"/><stop offset="0.214" stop-color="#200f2c"/><stop offset="0.286" stop-color="#220f2f"/><stop offset="0.357" stop-color="#231032"/><stop offset="0.429" stop-color="#251035"/><stop offset="0.500" stop-color="#261036"/><stop offset="0.571" stop-color="#241034"/><stop offset="0.643" stop-color="#241032"/><stop offset="0.714" stop-color="#230f31"/><stop offset="0.786" stop-color="#200f2b"/><stop offset="0.857" stop-color="#1b0e22"/><stop offset="0.929" stop-color="#170d1e"/><stop offset="1.000" stop-color="#180d1e"/></linearGradient><linearGradient id="g97"><stop offset="0.000" stop-color="#190d20"/><stop offset="0.071" stop-color="#1b0e23"/><stop offset="0.143" stop-color="#1e0f28"/><stop offset="0.214" stop-color="#200f2c"/><stop offset="0.286" stop-color="#220f2f"/><stop offset="0.357" stop-color="#231032"/><stop offset="0.429" stop-color="#251035"/><stop offset="0.500" stop-color="#251036"/><stop offset="0.571" stop-color="#241034"/><stop offset="0.643" stop-color="#231032"/><stop offset="0.714" stop-color="#230f31"/><stop offset="0.786" stop-color="#200f2b"/><stop offset="0.857" stop-color="#1b0e22"/><stop offset="0.929" stop-color="#170d1e"/><stop offset="1.000" stop-color="#180d1f"/></linearGradient><linearGradient id="g98"><stop offset="0.000" stop-color="#190d20"/><stop offset="0.071" stop-color="#1b0e23"/><stop offset="0.143" stop-color="#1e0f28"/><stop offset="0.214" stop-color="#200f2c"/><stop offset="0.286" stop-color="#220f2f"/><stop offset="0.357" stop-color="#231032"/><stop offset="0.429" stop-color="#251035"/><stop offset="0.500" stop-color="#251036"/><stop offset="0.571" stop-color="#241034"/><stop offset="0.643" stop-color="#231032"/><stop offset="0.714" stop-color="#230f31"/><stop offset="0.786" stop-color="#200f2b"/><stop offset="0.857" stop-color="#1b0e22"/><stop offset="0.929" stop-color="#170d1e"/><stop offset="1.000" stop-color="#180d1f"/></linearGradient><linearGradient id="g99"><stop offset="0.000" stop-color="#190d20"/><stop offset="0.071" stop-color="#1b0e23"/><stop offset="0.143" stop-color="#1e0f28"/><stop offset="0.214" stop-color="#200f2c"/><stop offset="0.286" stop-color="#220f2f"/><stop offset="0.357" stop-color="#231032"/><stop offset="0.429" stop-color="#251035"/><stop offset="0.500" stop-color="#251036"/><stop offset="0.571" stop-color="#241034"/><stop offset="0.643" stop-color="#231032"/><stop offset="0.714" stop-color="#230f31"/><stop offset="0.786" stop-color="#200f2b"/><stop offset="0.857" stop-color="#1b0e22"/><stop offset="0.929" stop-color="#170d1e"/><stop offset="1.000" stop-color="#180d1f"/></linearGradient><linearGradient id="g100"><stop offset="0.000" stop-color="#190d20"/><stop offset="0.071" stop-color="#1b0e23"/><stop offset="0.143" stop-color="#1e0f28"/><stop offset="0.214" stop-color="#200f2c"/><stop offset="0.286" stop-color="#220f2f"/><stop offset="0.357" stop-color="#231032"/><stop offset="0.429" stop-color="#251035"/><stop offset="0.500" stop-color="#251036"/><stop offset="0.571" stop-color="#241034"/><stop offset="0.643" stop-color="#231032"/><stop offset="0.714" stop-color="#230f31"/><stop offset="0.786" stop-color="#200f2b"/><stop offset="0.857" stop-color="#1b0e22"/><stop offset="0.929" stop-color="#170d1e"/><stop offset="1.000" stop-color="#180d1f"/></linearGradient></defs><rect x="0" y="0" width="537.0" height="5" fill="url(#g0)"/><rect x="0" y="4" width="537.0" height="5" fill="url(#g1)"/><rect x="0" y="8" width="537.0" height="5" fill="url(#g2)"/><rect x="0" y="12" width="537.0" height="5" fill="url(#g3)"/><rect x="0" y="16" width="537.0" height="5" fill="url(#g4)"/><rect x="0" y="20" width="537.0" height="5" fill="url(#g5)"/><rect x="0" y="24" width="537.0" height="5" fill="url(#g6)"/><rect x="0" y="28" width="537.0" height="5" fill="url(#g7)"/><rect x="0" y="32" width="537.0" height="5" fill="url(#g8)"/><rect x="0" y="36" width="537.0" height="5" fill="url(#g9)"/><rect x="0" y="40" width="537.0" height="5" fill="url(#g10)"/><rect x="0" y="44" width="537.0" height="5" fill="url(#g11)"/><rect x="0" y="48" width="537.0" height="5" fill="url(#g12)"/><rect x="0" y="52" width="537.0" height="5" fill="url(#g13)"/><rect x="0" y="56" width="537.0" height="5" fill="url(#g14)"/><rect x="0" y="60" width="537.0" height="5" fill="url(#g15)"/><rect x="0" y="64" width="537.0" height="5" fill="url(#g16)"/><rect x="0" y="68" width="537.0" height="5" fill="url(#g17)"/><rect x="0" y="72" width="537.0" height="5" fill="url(#g18)"/><rect x="0" y="76" width="537.0" height="5" fill="url(#g19)"/><rect x="0" y="80" width="537.0" height="5" fill="url(#g20)"/><rect x="0" y="84" width="537.0" height="5" fill="url(#g21)"/><rect x="0" y="88" width="537.0" height="5" fill="url(#g22)"/><rect x="0" y="92" width="537.0" height="5" fill="url(#g23)"/><rect x="0" y="96" width="537.0" height="5" fill="url(#g24)"/><rect x="0" y="100" width="537.0" height="5" fill="url(#g25)"/><rect x="0" y="104" width="537.0" height="5" fill="url(#g26)"/><rect x="0" y="108" width="537.0" height="5" fill="url(#g27)"/><rect x="0" y="112" width="537.0" height="5" fill="url(#g28)"/><rect x="0" y="116" width="537.0" height="5" fill="url(#g29)"/><rect x="0" y="120" width="537.0" height="5" fill="url(#g30)"/><rect x="0" y="124" width="537.0" height="5" fill="url(#g31)"/><rect x="0" y="128" width="537.0" height="5" fill="url(#g32)"/><rect x="0" y="132" width="537.0" height="5" fill="url(#g33)"/><rect x="0" y="136" width="537.0" height="5" fill="url(#g34)"/><rect x="0" y="140" width="537.0" height="5" fill="url(#g35)"/><rect x="0" y="144" width="537.0" height="5" fill="url(#g36)"/><rect x="0" y="148" width="537.0" height="5" fill="url(#g37)"/><rect x="0" y="152" width="537.0" height="5" fill="url(#g38)"/><rect x="0" y="156" width="537.0" height="5" fill="url(#g39)"/><rect x="0" y="160" width="537.0" height="5" fill="url(#g40)"/><rect x="0" y="164" width="537.0" height="5" fill="url(#g41)"/><rect x="0" y="168" width="537.0" height="5" fill="url(#g42)"/><rect x="0" y="172" width="537.0" height="5" fill="url(#g43)"/><rect x="0" y="176" width="537.0" height="5" fill="url(#g44)"/><rect x="0" y="180" width="537.0" height="5" fill="url(#g45)"/><rect x="0" y="184" width="537.0" height="5" fill="url(#g46)"/><rect x="0" y="188" width="537.0" height="5" fill="url(#g47)"/><rect x="0" y="192" width="537.0" height="5" fill="url(#g48)"/><rect x="0" y="196" width="537.0" height="5" fill="url(#g49)"/><rect x="0" y="200" width="537.0" height="5" fill="url(#g50)"/><rect x="0" y="204" width="537.0" height="5" fill="url(#g51)"/><rect x="0" y="208" width="537.0" height="5" fill="url(#g52)"/><rect x="0" y="212" width="537.0" height="5" fill="url(#g53)"/><rect x="0" y="216" width="537.0" height="5" fill="url(#g54)"/><rect x="0" y="220" width="537.0" height="5" fill="url(#g55)"/><rect x="0" y="224" width="537.0" height="5" fill="url(#g56)"/><rect x="0" y="228" width="537.0" height="5" fill="url(#g57)"/><rect x="0" y="232" width="537.0" height="5" fill="url(#g58)"/><rect x="0" y="236" width="537.0" height="5" fill="url(#g59)"/><rect x="0" y="240" width="537.0" height="5" fill="url(#g60)"/><rect x="0" y="244" width="537.0" height="5" fill="url(#g61)"/><rect x="0" y="248" width="537.0" height="5" fill="url(#g62)"/><rect x="0" y="252" width="537.0" height="5" fill="url(#g63)"/><rect x="0" y="256" width="537.0" height="5" fill="url(#g64)"/><rect x="0" y="260" width="537.0" height="5" fill="url(#g65)"/><rect x="0" y="264" width="537.0" height="5" fill="url(#g66)"/><rect x="0" y="268" width="537.0" height="5" fill="url(#g67)"/><rect x="0" y="272" width="537.0" height="5" fill="url(#g68)"/><rect x="0" y="276" width="537.0" height="5" fill="url(#g69)"/><rect x="0" y="280" width="537.0" height="5" fill="url(#g70)"/><rect x="0" y="284" width="537.0" height="5" fill="url(#g71)"/><rect x="0" y="288" width="537.0" height="5" fill="url(#g72)"/><rect x="0" y="292" width="537.0" height="5" fill="url(#g73)"/><rect x="0" y="296" width="537.0" height="5" fill="url(#g74)"/><rect x="0" y="300" width="537.0" height="5" fill="url(#g75)"/><rect x="0" y="304" width="537.0" height="5" fill="url(#g76)"/><rect x="0" y="308" width="537.0" height="5" fill="url(#g77)"/><rect x="0" y="312" width="537.0" height="5" fill="url(#g78)"/><rect x="0" y="316" width="537.0" height="5" fill="url(#g79)"/><rect x="0" y="320" width="537.0" height="5" fill="url(#g80)"/><rect x="0" y="324" width="537.0" height="5" fill="url(#g81)"/><rect x="0" y="328" width="537.0" height="5" fill="url(#g82)"/><rect x="0" y="332" width="537.0" height="5" fill="url(#g83)"/><rect x="0" y="336" width="537.0" height="5" fill="url(#g84)"/><rect x="0" y="340" width="537.0" height="5" fill="url(#g85)"/><rect x="0" y="344" width="537.0" height="5" fill="url(#g86)"/><rect x="0" y="348" width="537.0" height="5" fill="url(#g87)"/><rect x="0" y="352" width="537.0" height="5" fill="url(#g88)"/><rect x="0" y="356" width="537.0" height="5" fill="url(#g89)"/><rect x="0" y="360" width="537.0" height="5" fill="url(#g90)"/><rect x="0" y="364" width="537.0" height="5" fill="url(#g91)"/><rect x="0" y="368" width="537.0" height="5" fill="url(#g92)"/><rect x="0" y="372" width="537.0" height="5" fill="url(#g93)"/><rect x="0" y="376" width="537.0" height="5" fill="url(#g94)"/><rect x="0" y="380" width="537.0" height="5" fill="url(#g95)"/><rect x="0" y="384" width="537.0" height="5" fill="url(#g96)"/><rect x="0" y="388" width="537.0" height="5" fill="url(#g97)"/><rect x="0" y="392" width="537.0" height="5" fill="url(#g98)"/><rect x="0" y="396" width="537.0" height="5" fill="url(#g99)"/><rect x="0" y="400" width="537.0" height="5" fill="url(#g100)"/></svg>
<svg width="768" height="591" style="position:absolute;left:0;top:0" viewBox="0 0 768 591">
<defs><filter id="wb" x="-10%" y="-10%" width="120%" height="120%"><feGaussianBlur stdDeviation="0.8"/></filter><filter id="wb2" x="-10%" y="-10%" width="120%" height="120%"><feGaussianBlur stdDeviation="1.3"/></filter></defs>
<path d="M262,262 C246,282 240,318 258,340 C276,362 320,368 360,352 C400,336 440,318 486,300 L486,290 C440,292 380,294 330,292 C300,290 285,270 262,262 Z" fill="#3a5ad8" opacity="0.16" filter="url(#wb)"/>
<g stroke="#4a90c0" stroke-opacity="0.22" stroke-width="3.2" fill="none" stroke-linecap="round" filter="url(#wb2)">
<path d="M300,302 C298,288 294,276 288,262 C285,256 282,252 279,249"/>
<path d="M291,268 C287,262 286,256 287,250"/>
<path d="M295,280 C300,270 304,262 306,252"/>
<path d="M297,288 C306,280 314,270 318,258"/>
<path d="M304,278 C310,276 316,272 322,268"/>
<path d="M300,294 C310,290 320,284 328,276"/>
<path d="M312,287 C318,288 324,290 330,290"/>
<path d="M289,264 L281,262"/><path d="M306,256 L312,250"/><path d="M316,264 L324,260"/>
<path d="M348,302 C347,292 346,282 343,270"/>
<path d="M346,286 C350,280 352,274 354,266"/>
<path d="M345,278 C340,274 337,270 335,264"/>
<path d="M347,294 C352,292 356,288 358,282"/>
</g>
<g opacity="0.22" filter="url(#wb)" fill="none" stroke-linecap="round" stroke-linejoin="round"><g stroke="#c8a0c8" stroke-width="12.5"><path d="M259,319 L259,265 L277,265 A15,15 0 0 1 277,295 L259,295 M274,295 L292,319"/>
<path d="M303,301 L337,301 A17,17 0 1 0 332,313"/>
<path d="M383,289 A16,17 0 1 0 383,314"/>
<path d="M400,283 L400,319"/>
<path d="M421.5,319 L421.5,276 A10,10 0 0 1 432,266 M413,279 L431,279"/>
<path d="M468.5,284 L468.5,319 M468.5,302.5 A17,17 0 1 1 434.5,302.5 A17,17 0 1 1 468.5,302.5"/>
<path d="M485.7,265 L485.7,319"/><circle cx="399.5" cy="265.6" r="1" stroke-width="14"/></g><g stroke="#6e3c6c" stroke-width="9.5"><path d="M259,319 L259,265 L277,265 A15,15 0 0 1 277,295 L259,295 M274,295 L292,319"/>
<path d="M303,301 L337,301 A17,17 0 1 0 332,313"/>
<path d="M383,289 A16,17 0 1 0 383,314"/>
<path d="M400,283 L400,319"/>
<path d="M421.5,319 L421.5,276 A10,10 0 0 1 432,266 M413,279 L431,279"/>
<path d="M468.5,284 L468.5,319 M468.5,302.5 A17,17 0 1 1 434.5,302.5 A17,17 0 1 1 468.5,302.5"/>
<path d="M485.7,265 L485.7,319"/><circle cx="399.5" cy="265.6" r="1" stroke-width="11"/></g></g>
<text x="426" y="350" font-family="Liberation Sans" font-weight="bold" font-style="italic" font-size="27" textLength="64" lengthAdjust="spacingAndGlyphs" fill="#4a64c8" fill-opacity="0.2" filter="url(#wb)">NEWS</text>
</svg>
<div class="n" style="left:73.0px;top:117.8px">82</div><div class="n" style="left:136.3px;top:117.8px">96</div><div class="n" style="left:199.6px;top:117.8px"><span class="o">1</span><span class="o">1</span>6</div><div class="n" style="left:262.9px;top:117.8px"><span class="o">1</span>23</div><div class="n" style="left:326.2px;top:117.8px"><span class="o">1</span>27</div><div class="n" style="left:389.5px;top:117.8px"><span class="o">1</span>25</div><div class="n" style="left:452.9px;top:117.8px"><span class="o">1</span>04</div><div class="n" style="left:516.2px;top:117.8px">79</div><div class="n" style="left:579.5px;top:117.8px">62</div><div class="n" style="left:73.0px;top:179.8px">99</div><div class="n" style="left:136.3px;top:179.8px"><span class="o">1</span>26</div><div class="n" style="left:199.6px;top:179.8px"><span class="o">1</span>46</div><div class="n" style="left:262.9px;top:179.8px"><span class="o">1</span>67</div><div class="n" style="left:326.2px;top:179.8px"><span class="o">1</span>73</div><div class="n" style="left:389.5px;top:179.8px"><span class="o">1</span>66</div><div class="n" style="left:452.9px;top:179.8px"><span class="o">1</span>37</div><div class="n" style="left:516.2px;top:179.8px"><span class="o">1</span>08</div><div class="n" style="left:579.5px;top:179.8px">84</div><div class="n" style="left:73.0px;top:241.9px"><span class="o">1</span><span class="o">1</span>2</div><div class="n" style="left:136.3px;top:241.9px"><span class="o">1</span>42</div><div class="n" style="left:199.6px;top:241.9px"><span class="o">1</span>70</div><div class="n" style="left:262.9px;top:241.9px"><span class="o">1</span>96</div><div class="n" style="left:326.2px;top:241.9px">203</div><div class="n" style="left:389.5px;top:241.9px"><span class="o">1</span>88</div><div class="n" style="left:452.9px;top:241.9px"><span class="o">1</span>55</div><div class="n" style="left:516.2px;top:241.9px"><span class="o">1</span>26</div><div class="n" style="left:579.5px;top:241.9px">98</div><div class="n" style="left:73.0px;top:303.9px"><span class="o">1</span><span class="o">1</span>6</div><div class="n" style="left:136.3px;top:303.9px"><span class="o">1</span>45</div><div class="n" style="left:199.6px;top:303.9px"><span class="o">1</span>77</div><div class="n" style="left:262.9px;top:303.9px">206</div><div class="n" style="left:326.2px;top:303.9px">2<span class="o">1</span>6</div><div class="n" style="left:389.5px;top:303.9px"><span class="o">1</span>96</div><div class="n" style="left:452.9px;top:303.9px"><span class="o">1</span>64</div><div class="n" style="left:516.2px;top:303.9px"><span class="o">1</span>37</div><div class="n" style="left:579.5px;top:303.9px"><span class="o">1</span>08</div><div class="n" style="left:73.0px;top:366.0px"><span class="o">1</span><span class="o">1</span>2</div><div class="n" style="left:136.3px;top:366.0px"><span class="o">1</span>38</div><div class="n" style="left:199.6px;top:366.0px"><span class="o">1</span>67</div><div class="n" style="left:262.9px;top:366.0px"><span class="o">1</span>93</div><div class="n" style="left:326.2px;top:366.0px">207</div><div class="n" style="left:389.5px;top:366.0px"><span class="o">1</span>90</div><div class="n" style="left:452.9px;top:366.0px"><span class="o">1</span>60</div><div class="n" style="left:516.2px;top:366.0px"><span class="o">1</span>34</div><div class="n" style="left:579.5px;top:366.0px"><span class="o">1</span>02</div><div class="n" style="left:73.0px;top:428.1px">99</div><div class="n" style="left:136.3px;top:428.1px"><span class="o">1</span>24</div><div class="n" style="left:199.6px;top:428.1px"><span class="o">1</span>48</div><div class="n" style="left:262.9px;top:428.1px"><span class="o">1</span>70</div><div class="n" style="left:326.2px;top:428.1px"><span class="o">1</span>83</div><div class="n" style="left:389.5px;top:428.1px"><span class="o">1</span>70</div><div class="n" style="left:452.9px;top:428.1px"><span class="o">1</span>42</div><div class="n" style="left:516.2px;top:428.1px"><span class="o">1</span><span class="o">1</span>8</div><div class="n" style="left:579.5px;top:428.1px">75</div><div class="n" style="left:73.0px;top:490.1px">7<span class="o">1</span></div><div class="n" style="left:136.3px;top:490.1px">97</div><div class="n" style="left:199.6px;top:490.1px"><span class="o">1</span><span class="o">1</span>5</div><div class="n" style="left:262.9px;top:490.1px"><span class="o">1</span>28</div><div class="n" style="left:326.2px;top:490.1px"><span class="o">1</span>37</div><div class="n" style="left:389.5px;top:490.1px"><span class="o">1</span>27</div><div class="n" style="left:452.9px;top:490.1px"><span class="o">1</span><span class="o">1</span>9</div><div class="n" style="left:516.2px;top:490.1px">8<span class="o">1</span></div><div class="n" style="left:579.5px;top:490.1px">67</div>
<div class="xtick" style="left:111.90px"></div><div class="xlab" style="left:83.5px">40</div><div class="xtick" style="left:238.22px"></div><div class="xlab" style="left:209.8px">20</div><div class="xtick" style="left:364.54px"></div><div class="xlab" style="left:336.1px">0</div><div class="xtick" style="left:490.86px"></div><div class="xlab" style="left:462.5px">20</div><div class="xtick" style="left:617.18px"></div><div class="xlab" style="left:588.8px">40</div>
<div class="ytick" style="top:118.20px"></div><div class="ylab" style="top:119.1px;">30</div><div class="ylab" style="top:180.9px;">20</div><div class="ytick" style="top:241.80px"></div><div class="ylab" style="top:242.7px;"><span class="o">1</span>0</div><div class="ylab" style="top:304.5px;width:59.5px">0</div><div class="ytick" style="top:365.40px"></div><div class="ylab" style="top:366.3px;"><span class="o">1</span>0</div><div class="ylab" style="top:428.1px;">20</div><div class="ytick" style="top:489.00px"></div><div class="ylab" style="top:489.9px;">30</div>
<div id="xtitle">Distance du centre de la rampe (cm)</div>
<div id="ytitle"><span>Distance du centre de la rampe (cm)</span></div>
<div id="ltitle">PAR</div>
<svg width="37" height="185.1" style="position:absolute;left:669.6px;top:228.7px"><defs><linearGradient id="lg" x1="0" y1="0" x2="0" y2="1"><stop offset="0.000" stop-color="#fdf0a8"/><stop offset="0.025" stop-color="#fde39f"/><stop offset="0.050" stop-color="#fdd696"/><stop offset="0.075" stop-color="#fdc98d"/><stop offset="0.100" stop-color="#fdbe85"/><stop offset="0.125" stop-color="#fdb57f"/><stop offset="0.150" stop-color="#fdab79"/><stop offset="0.175" stop-color="#fda272"/><stop offset="0.200" stop-color="#fd996c"/><stop offset="0.225" stop-color="#fd8f66"/><stop offset="0.250" stop-color="#f98565"/><stop offset="0.275" stop-color="#f67b64"/><stop offset="0.300" stop-color="#f27163"/><stop offset="0.325" stop-color="#ed6964"/><stop offset="0.350" stop-color="#e3656a"/><stop offset="0.375" stop-color="#db5f6d"/><stop offset="0.400" stop-color="#d4586e"/><stop offset="0.425" stop-color="#cd506f"/><stop offset="0.450" stop-color="#c84972"/><stop offset="0.475" stop-color="#c24275"/><stop offset="0.500" stop-color="#bd3b78"/><stop offset="0.525" stop-color="#b3367a"/><stop offset="0.550" stop-color="#a9327c"/><stop offset="0.575" stop-color="#9e2d7e"/><stop offset="0.600" stop-color="#942880"/><stop offset="0.625" stop-color="#892482"/><stop offset="0.650" stop-color="#7e2181"/><stop offset="0.675" stop-color="#721e80"/><stop offset="0.700" stop-color="#671b7e"/><stop offset="0.725" stop-color="#5d187c"/><stop offset="0.750" stop-color="#541478"/><stop offset="0.775" stop-color="#4c1371"/><stop offset="0.800" stop-color="#451266"/><stop offset="0.825" stop-color="#3c1355"/><stop offset="0.850" stop-color="#331249"/><stop offset="0.875" stop-color="#2b113e"/><stop offset="0.900" stop-color="#241034"/><stop offset="0.925" stop-color="#1f0f2b"/><stop offset="0.950" stop-color="#1b0e21"/><stop offset="0.975" stop-color="#140b1a"/><stop offset="1.000" stop-color="#0d0912"/></linearGradient></defs><rect width="37" height="185.1" fill="url(#lg)"/><rect x="0" y="145.10" width="7.5" height="1.4" fill="#fff" opacity="0.75"/><rect x="29.5" y="145.10" width="7.5" height="1.4" fill="#fff" opacity="0.75"/><rect x="0" y="101.57" width="7.5" height="1.4" fill="#fff" opacity="0.75"/><rect x="29.5" y="101.57" width="7.5" height="1.4" fill="#fff" opacity="0.75"/><rect x="0" y="58.04" width="7.5" height="1.4" fill="#fff" opacity="0.75"/><rect x="29.5" y="58.04" width="7.5" height="1.4" fill="#fff" opacity="0.75"/><rect x="0" y="14.51" width="7.5" height="1.4" fill="#fff" opacity="0.75"/><rect x="29.5" y="14.51" width="7.5" height="1.4" fill="#fff" opacity="0.75"/></svg><div class="llab" style="top:375.3px">250</div><div class="llab" style="top:331.8px">500</div><div class="llab" style="top:288.2px">750</div><div class="llab" style="top:244.7px"><span class="o">1</span>000</div>
<svg width="768" height="591" style="position:absolute;left:0;top:0"><defs><filter id="bl"><feGaussianBlur stdDeviation="0.7"/></filter><filter id="bl2"><feGaussianBlur stdDeviation="6"/></filter></defs><linearGradient id="shg" x1="0" y1="0" x2="1" y2="1"><stop offset="0" stop-color="#000" stop-opacity="0"/><stop offset="1" stop-color="#000" stop-opacity="0.05"/></linearGradient><rect x="600" y="544" width="67" height="47" fill="url(#shg)" opacity="0.7" filter="url(#bl)"/><rect x="592.5" y="578.5" width="82.5" height="13" fill="url(#shg)" filter="url(#bl)"/><polygon points="-2,584 -2,593 5,593" fill="#1a1a1a" filter="url(#bl)"/></svg>
</body></html>
